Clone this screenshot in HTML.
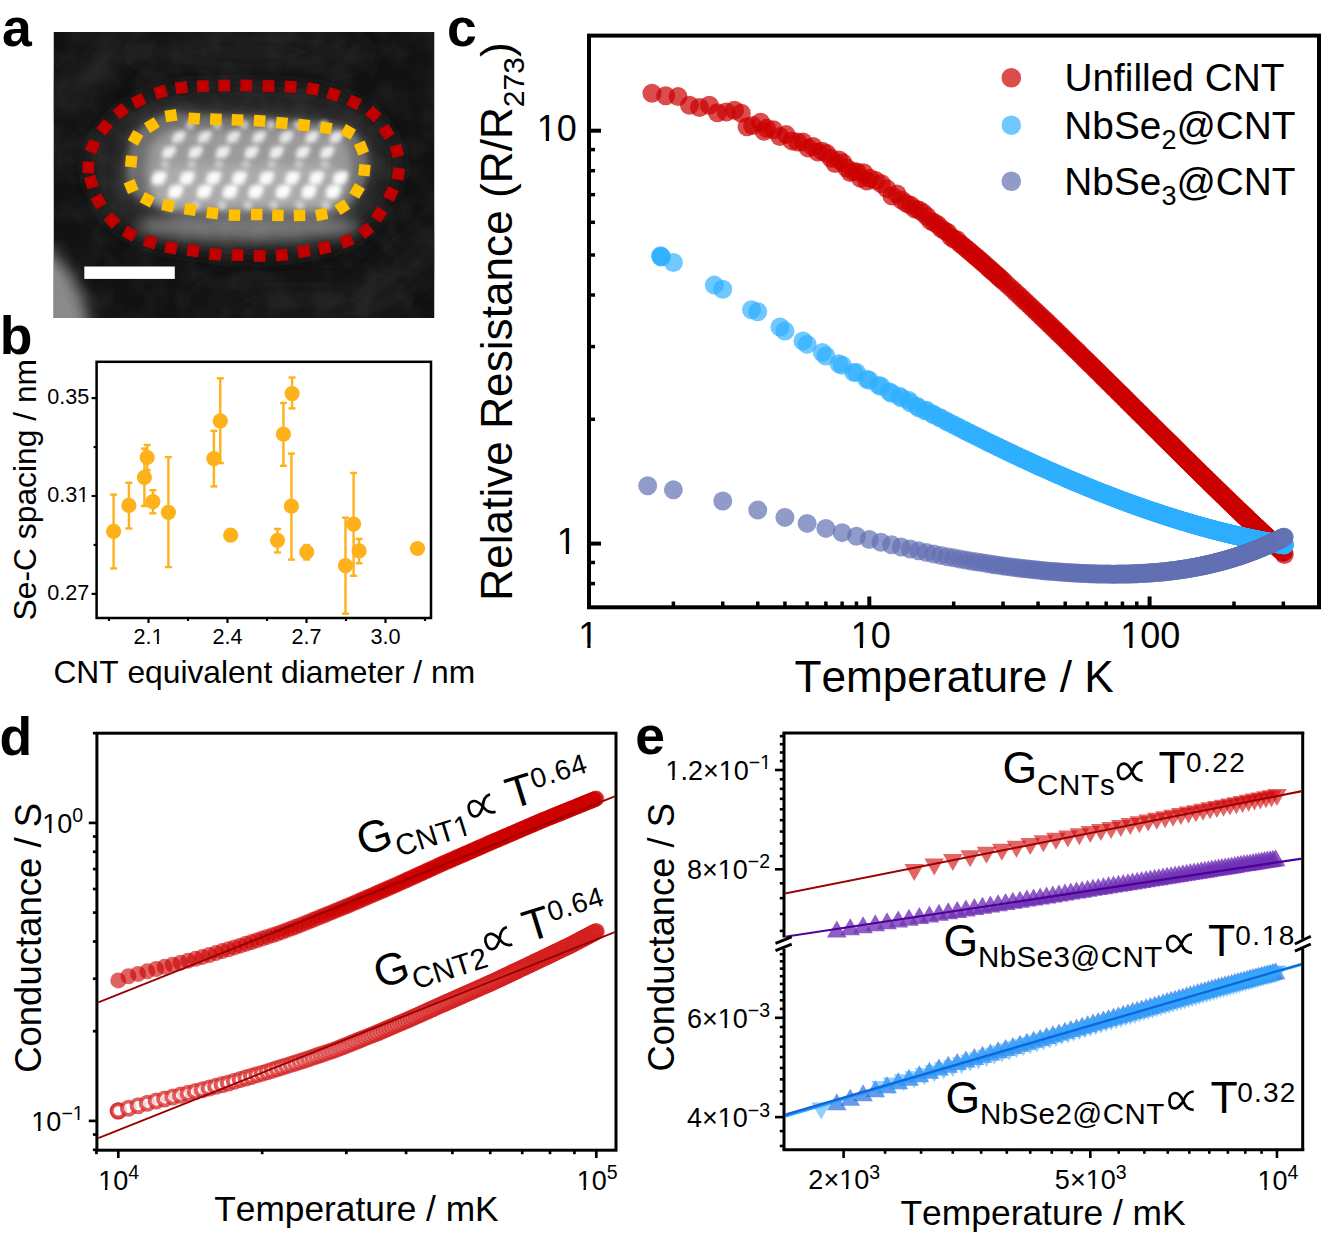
<!DOCTYPE html><html><head><meta charset="utf-8"><style>html,body{margin:0;padding:0;background:#fff;}svg{display:block;font-family:"Liberation Sans",sans-serif;font-kerning:none;}</style></head><body>
<svg width="1321" height="1237" viewBox="0 0 1321 1237">
<defs><clipPath id="clipa"><rect x="53.5" y="32" width="381" height="286"/></clipPath><clipPath id="clipc"><rect x="591" y="37.6" width="726" height="567.7"/></clipPath><clipPath id="clipd"><rect x="98.4" y="734.7" width="516.1" height="414"/></clipPath><clipPath id="clipe"><rect x="785.5" y="734.5" width="515.7" height="413.8"/></clipPath><filter id="grain" x="0" y="0" width="100%" height="100%"><feTurbulence type="fractalNoise" baseFrequency="0.045" numOctaves="2" seed="3"/><feColorMatrix type="matrix" values="0 0 0 0 1  0 0 0 0 1  0 0 0 0 1  2.2 0 0 0 -0.75"/></filter><filter id="blur2" x="-50%" y="-50%" width="200%" height="200%"><feGaussianBlur stdDeviation="2"/></filter><filter id="blur3" x="-50%" y="-50%" width="200%" height="200%"><feGaussianBlur stdDeviation="3"/></filter><filter id="blur5" x="-50%" y="-50%" width="200%" height="200%"><feGaussianBlur stdDeviation="5"/></filter><filter id="blur7" x="-50%" y="-50%" width="200%" height="200%"><feGaussianBlur stdDeviation="7"/></filter><filter id="blur8" x="-50%" y="-50%" width="200%" height="200%"><feGaussianBlur stdDeviation="8"/></filter><filter id="blur12" x="-50%" y="-50%" width="200%" height="200%"><feGaussianBlur stdDeviation="12"/></filter><filter id="blur14" x="-50%" y="-50%" width="200%" height="200%"><feGaussianBlur stdDeviation="14"/></filter></defs>
<rect width="1321" height="1237" fill="#fff"/>
<g clip-path="url(#clipa)">
<rect x="53.5" y="32" width="381" height="286" fill="#121212"/>
<g filter="url(#blur12)" opacity="0.6"><path d="M50,110 L140,25" stroke="#2c2c2c" stroke-width="28"/><path d="M60,170 L110,120" stroke="#262626" stroke-width="20"/><path d="M330,330 L440,240" stroke="#242424" stroke-width="36"/></g>
<g filter="url(#blur8)"><ellipse cx="57" cy="300" rx="24" ry="56" transform="rotate(-24 57 300)" fill="#8a8a8a"/></g>
<g filter="url(#blur14)" opacity="0.7"><ellipse cx="250" cy="52" rx="120" ry="16" fill="#262626"/><ellipse cx="300" cy="300" rx="110" ry="14" fill="#222"/></g>
<g filter="url(#blur8)"><path d="M160.7,92 L181.4,87.6 L202.9,86.1 L224.2,85.5 L246.3,85.5 L268.5,86.1 L290.6,86.7 L312.8,89 L333.4,94.4 L354.1,102.3 L373.3,114.1 L386.6,131.9 L396.9,151 L398.4,173.8 L391,193.9 L379.2,214.5 L365.9,230.8 L346.7,241.1 L324.6,247.9 L303.9,251.4 L281.8,255 L259.6,255.9 L237.5,255 L215.3,254.4 L193.2,250.8 L171,247.9 L150.4,242 L129.7,233.7 L112,220.4 L98.7,201.2 L91.3,182 L88.4,167.3 L92.8,146.6 L104.6,127.4 L120.9,111.2 L138.6,100.9 Z" fill="#242424" stroke="#242424" stroke-width="4" stroke-linejoin="round"/></g>
<g filter="url(#blur7)"><path d="M171,115.6 L194.1,118.6 L215.9,119.2 L237.5,120 L259.6,120.9 L281.8,123 L303.9,125.1 L326,128 L348.2,131.9 L361.5,148.1 L364.4,170.2 L357.1,190.9 L342.3,207.1 L321.6,214.5 L299.5,215.4 L277.9,215.4 L256.7,214.5 L234.5,215.1 L212.4,213.1 L190.2,209.5 L168.1,205.7 L147.4,199.8 L131.2,186.5 L131.2,161.4 L135.6,137.8 L151.9,125.1 Z" fill="#3a3a3a" stroke="#3a3a3a" stroke-width="20" stroke-linejoin="round"/></g>
<g filter="url(#blur7)"><ellipse cx="248" cy="226" rx="112" ry="15" fill="#747474"/></g>
<g filter="url(#blur3)"><path d="M171,115.6 L194.1,118.6 L215.9,119.2 L237.5,120 L259.6,120.9 L281.8,123 L303.9,125.1 L326,128 L348.2,131.9 L361.5,148.1 L364.4,170.2 L357.1,190.9 L342.3,207.1 L321.6,214.5 L299.5,215.4 L277.9,215.4 L256.7,214.5 L234.5,215.1 L212.4,213.1 L190.2,209.5 L168.1,205.7 L147.4,199.8 L131.2,186.5 L131.2,161.4 L135.6,137.8 L151.9,125.1 Z" fill="#6c6c6c" stroke="#6c6c6c" stroke-width="8" stroke-linejoin="round"/></g>
<g filter="url(#blur5)"><rect x="146" y="128" width="206" height="80" rx="36" fill="#999"/></g>
<g filter="url(#blur5)"><rect x="152" y="165" width="192" height="42" rx="20" fill="#ababab"/></g>
<g fill="#e6e6e6" filter="url(#blur2)"><circle cx="178.4" cy="137.2" r="5.6"/><circle cx="182.4" cy="134.2" r="3.47"/><circle cx="174.9" cy="140.2" r="3.08"/><circle cx="204.2" cy="137.2" r="5.6"/><circle cx="208.2" cy="134.2" r="3.47"/><circle cx="200.7" cy="140.2" r="3.08"/><circle cx="233" cy="137.2" r="5.6"/><circle cx="237" cy="134.2" r="3.47"/><circle cx="229.5" cy="140.2" r="3.08"/><circle cx="258.7" cy="137.2" r="5.6"/><circle cx="262.7" cy="134.2" r="3.47"/><circle cx="255.2" cy="140.2" r="3.08"/><circle cx="285.9" cy="137.2" r="5.6"/><circle cx="289.9" cy="134.2" r="3.47"/><circle cx="282.4" cy="140.2" r="3.08"/><circle cx="311.7" cy="137.2" r="5.6"/><circle cx="315.7" cy="134.2" r="3.47"/><circle cx="308.2" cy="140.2" r="3.08"/><circle cx="336" cy="137.2" r="5.6"/><circle cx="340" cy="134.2" r="3.47"/><circle cx="332.5" cy="140.2" r="3.08"/></g>
<g fill="#eeeeee" filter="url(#blur2)"><circle cx="168.6" cy="152.4" r="6.0"/><circle cx="172.6" cy="149.4" r="3.72"/><circle cx="165.1" cy="155.4" r="3.30"/><circle cx="195.1" cy="152.4" r="6.0"/><circle cx="199.1" cy="149.4" r="3.72"/><circle cx="191.6" cy="155.4" r="3.30"/><circle cx="222.4" cy="152.4" r="6.0"/><circle cx="226.4" cy="149.4" r="3.72"/><circle cx="218.9" cy="155.4" r="3.30"/><circle cx="251.1" cy="152.4" r="6.0"/><circle cx="255.1" cy="149.4" r="3.72"/><circle cx="247.6" cy="155.4" r="3.30"/><circle cx="276.1" cy="152.4" r="6.0"/><circle cx="280.1" cy="149.4" r="3.72"/><circle cx="272.6" cy="155.4" r="3.30"/><circle cx="302.6" cy="152.4" r="6.0"/><circle cx="306.6" cy="149.4" r="3.72"/><circle cx="299.1" cy="155.4" r="3.30"/><circle cx="326.8" cy="152.4" r="6.0"/><circle cx="330.8" cy="149.4" r="3.72"/><circle cx="323.3" cy="155.4" r="3.30"/></g>
<g fill="#fafafa" filter="url(#blur2)"><circle cx="158.8" cy="178.1" r="6.8"/><circle cx="162.8" cy="175.1" r="4.22"/><circle cx="155.3" cy="181.1" r="3.74"/><circle cx="186.8" cy="178.1" r="6.8"/><circle cx="190.8" cy="175.1" r="4.22"/><circle cx="183.3" cy="181.1" r="3.74"/><circle cx="213.3" cy="178.1" r="6.8"/><circle cx="217.3" cy="175.1" r="4.22"/><circle cx="209.8" cy="181.1" r="3.74"/><circle cx="239" cy="178.1" r="6.8"/><circle cx="243" cy="175.1" r="4.22"/><circle cx="235.5" cy="181.1" r="3.74"/><circle cx="266.3" cy="178.1" r="6.8"/><circle cx="270.3" cy="175.1" r="4.22"/><circle cx="262.8" cy="181.1" r="3.74"/><circle cx="292" cy="178.1" r="6.8"/><circle cx="296" cy="175.1" r="4.22"/><circle cx="288.5" cy="181.1" r="3.74"/><circle cx="316.2" cy="178.1" r="6.8"/><circle cx="320.2" cy="175.1" r="4.22"/><circle cx="312.7" cy="181.1" r="3.74"/><circle cx="340" cy="178.1" r="6.8"/><circle cx="344" cy="175.1" r="4.22"/><circle cx="336.5" cy="181.1" r="3.74"/></g>
<g fill="#fcfcfc" filter="url(#blur2)"><circle cx="175.4" cy="191.7" r="7.0"/><circle cx="179.4" cy="188.7" r="4.34"/><circle cx="171.9" cy="194.7" r="3.85"/><circle cx="204.2" cy="191.7" r="7.0"/><circle cx="208.2" cy="188.7" r="4.34"/><circle cx="200.7" cy="194.7" r="3.85"/><circle cx="229.9" cy="191.7" r="7.0"/><circle cx="233.9" cy="188.7" r="4.34"/><circle cx="226.4" cy="194.7" r="3.85"/><circle cx="255.7" cy="191.7" r="7.0"/><circle cx="259.7" cy="188.7" r="4.34"/><circle cx="252.2" cy="194.7" r="3.85"/><circle cx="282.9" cy="191.7" r="7.0"/><circle cx="286.9" cy="188.7" r="4.34"/><circle cx="279.4" cy="194.7" r="3.85"/><circle cx="308.7" cy="191.7" r="7.0"/><circle cx="312.7" cy="188.7" r="4.34"/><circle cx="305.2" cy="194.7" r="3.85"/><circle cx="333" cy="191.7" r="7.0"/><circle cx="337" cy="188.7" r="4.34"/><circle cx="329.5" cy="194.7" r="3.85"/></g>
<g fill="#c8c8c8" filter="url(#blur2)"><circle cx="165" cy="164.5" r="4.5"/><circle cx="192" cy="164.5" r="4.5"/><circle cx="219" cy="164.5" r="4.5"/><circle cx="246" cy="164.5" r="4.5"/><circle cx="272" cy="164.5" r="4.5"/><circle cx="299" cy="164.5" r="4.5"/><circle cx="325" cy="164.5" r="4.5"/><circle cx="190" cy="125" r="4.5"/><circle cx="217" cy="125" r="4.5"/><circle cx="244" cy="125" r="4.5"/><circle cx="271" cy="125" r="4.5"/><circle cx="298" cy="125" r="4.5"/><circle cx="324" cy="125" r="4.5"/></g>
<g fill="#d0d0d0" filter="url(#blur2)"><circle cx="170" cy="205" r="4.5"/><circle cx="196" cy="205" r="4.5"/><circle cx="222" cy="205" r="4.5"/><circle cx="248" cy="205" r="4.5"/><circle cx="274" cy="205" r="4.5"/><circle cx="300" cy="205" r="4.5"/><circle cx="326" cy="205" r="4.5"/></g>
<rect x="53.5" y="32" width="381" height="286" filter="url(#grain)" opacity="0.045"/>
</g>
<g fill="#c00000"><rect x="-5.9" y="-5.9" width="11.8" height="11.8" transform="translate(160.7,92) rotate(-17.26)"/><rect x="-5.9" y="-5.9" width="11.8" height="11.8" transform="translate(181.4,87.6) rotate(-7.96)"/><rect x="-5.9" y="-5.9" width="11.8" height="11.8" transform="translate(202.9,86.1) rotate(-2.81)"/><rect x="-5.9" y="-5.9" width="11.8" height="11.8" transform="translate(224.2,85.5) rotate(-0.79)"/><rect x="-5.9" y="-5.9" width="11.8" height="11.8" transform="translate(246.3,85.5) rotate(0.78)"/><rect x="-5.9" y="-5.9" width="11.8" height="11.8" transform="translate(268.5,86.1) rotate(1.55)"/><rect x="-5.9" y="-5.9" width="11.8" height="11.8" transform="translate(290.6,86.7) rotate(3.75)"/><rect x="-5.9" y="-5.9" width="11.8" height="11.8" transform="translate(312.8,89) rotate(10.2)"/><rect x="-5.9" y="-5.9" width="11.8" height="11.8" transform="translate(333.4,94.4) rotate(17.85)"/><rect x="-5.9" y="-5.9" width="11.8" height="11.8" transform="translate(354.1,102.3) rotate(26.28)"/><rect x="-5.9" y="-5.9" width="11.8" height="11.8" transform="translate(373.3,114.1) rotate(42.33)"/><rect x="-5.9" y="-5.9" width="11.8" height="11.8" transform="translate(386.6,131.9) rotate(57.4)"/><rect x="-5.9" y="-5.9" width="11.8" height="11.8" transform="translate(396.9,151) rotate(74.27)"/><rect x="-5.9" y="-5.9" width="11.8" height="11.8" transform="translate(398.4,173.8) rotate(97.83)"/><rect x="-5.9" y="-5.9" width="11.8" height="11.8" transform="translate(391,193.9) rotate(115.26)"/><rect x="-5.9" y="-5.9" width="11.8" height="11.8" transform="translate(379.2,214.5) rotate(124.22)"/><rect x="-5.9" y="-5.9" width="11.8" height="11.8" transform="translate(365.9,230.8) rotate(140.7)"/><rect x="-5.9" y="-5.9" width="11.8" height="11.8" transform="translate(346.7,241.1) rotate(157.51)"/><rect x="-5.9" y="-5.9" width="11.8" height="11.8" transform="translate(324.6,247.9) rotate(166.47)"/><rect x="-5.9" y="-5.9" width="11.8" height="11.8" transform="translate(303.9,251.4) rotate(170.58)"/><rect x="-5.9" y="-5.9" width="11.8" height="11.8" transform="translate(281.8,255) rotate(174.2)"/><rect x="-5.9" y="-5.9" width="11.8" height="11.8" transform="translate(259.6,255.9) rotate(180)"/><rect x="-5.9" y="-5.9" width="11.8" height="11.8" transform="translate(237.5,255) rotate(-178.06)"/><rect x="-5.9" y="-5.9" width="11.8" height="11.8" transform="translate(215.3,254.4) rotate(-174.58)"/><rect x="-5.9" y="-5.9" width="11.8" height="11.8" transform="translate(193.2,250.8) rotate(-171.65)"/><rect x="-5.9" y="-5.9" width="11.8" height="11.8" transform="translate(171,247.9) rotate(-168.38)"/><rect x="-5.9" y="-5.9" width="11.8" height="11.8" transform="translate(150.4,242) rotate(-161.03)"/><rect x="-5.9" y="-5.9" width="11.8" height="11.8" transform="translate(129.7,233.7) rotate(-150.64)"/><rect x="-5.9" y="-5.9" width="11.8" height="11.8" transform="translate(112,220.4) rotate(-133.65)"/><rect x="-5.9" y="-5.9" width="11.8" height="11.8" transform="translate(98.7,201.2) rotate(-118.33)"/><rect x="-5.9" y="-5.9" width="11.8" height="11.8" transform="translate(91.3,182) rotate(-106.9)"/><rect x="-5.9" y="-5.9" width="11.8" height="11.8" transform="translate(88.4,167.3) rotate(-87.57)"/><rect x="-5.9" y="-5.9" width="11.8" height="11.8" transform="translate(92.8,146.6) rotate(-67.9)"/><rect x="-5.9" y="-5.9" width="11.8" height="11.8" transform="translate(104.6,127.4) rotate(-51.56)"/><rect x="-5.9" y="-5.9" width="11.8" height="11.8" transform="translate(120.9,111.2) rotate(-37.93)"/><rect x="-5.9" y="-5.9" width="11.8" height="11.8" transform="translate(138.6,100.9) rotate(-25.75)"/></g>
<g fill="#ffc000"><rect x="-5.75" y="-5.75" width="11.5" height="11.5" transform="translate(171,115.6) rotate(-8.76)"/><rect x="-5.75" y="-5.75" width="11.5" height="11.5" transform="translate(194.1,118.6) rotate(4.58)"/><rect x="-5.75" y="-5.75" width="11.5" height="11.5" transform="translate(215.9,119.2) rotate(1.85)"/><rect x="-5.75" y="-5.75" width="11.5" height="11.5" transform="translate(237.5,120) rotate(2.23)"/><rect x="-5.75" y="-5.75" width="11.5" height="11.5" transform="translate(259.6,120.9) rotate(3.87)"/><rect x="-5.75" y="-5.75" width="11.5" height="11.5" transform="translate(281.8,123) rotate(5.42)"/><rect x="-5.75" y="-5.75" width="11.5" height="11.5" transform="translate(303.9,125.1) rotate(6.45)"/><rect x="-5.75" y="-5.75" width="11.5" height="11.5" transform="translate(326,128) rotate(8.73)"/><rect x="-5.75" y="-5.75" width="11.5" height="11.5" transform="translate(348.2,131.9) rotate(29.52)"/><rect x="-5.75" y="-5.75" width="11.5" height="11.5" transform="translate(361.5,148.1) rotate(67.07)"/><rect x="-5.75" y="-5.75" width="11.5" height="11.5" transform="translate(364.4,170.2) rotate(95.87)"/><rect x="-5.75" y="-5.75" width="11.5" height="11.5" transform="translate(357.1,190.9) rotate(120.92)"/><rect x="-5.75" y="-5.75" width="11.5" height="11.5" transform="translate(342.3,207.1) rotate(146.38)"/><rect x="-5.75" y="-5.75" width="11.5" height="11.5" transform="translate(321.6,214.5) rotate(169.03)"/><rect x="-5.75" y="-5.75" width="11.5" height="11.5" transform="translate(299.5,215.4) rotate(178.82)"/><rect x="-5.75" y="-5.75" width="11.5" height="11.5" transform="translate(277.9,215.4) rotate(-178.8)"/><rect x="-5.75" y="-5.75" width="11.5" height="11.5" transform="translate(256.7,214.5) rotate(-179.6)"/><rect x="-5.75" y="-5.75" width="11.5" height="11.5" transform="translate(234.5,215.1) rotate(-178.19)"/><rect x="-5.75" y="-5.75" width="11.5" height="11.5" transform="translate(212.4,213.1) rotate(-172.8)"/><rect x="-5.75" y="-5.75" width="11.5" height="11.5" transform="translate(190.2,209.5) rotate(-170.52)"/><rect x="-5.75" y="-5.75" width="11.5" height="11.5" transform="translate(168.1,205.7) rotate(-167.23)"/><rect x="-5.75" y="-5.75" width="11.5" height="11.5" transform="translate(147.4,199.8) rotate(-152.51)"/><rect x="-5.75" y="-5.75" width="11.5" height="11.5" transform="translate(131.2,186.5) rotate(-112.87)"/><rect x="-5.75" y="-5.75" width="11.5" height="11.5" transform="translate(131.2,161.4) rotate(-84.84)"/><rect x="-5.75" y="-5.75" width="11.5" height="11.5" transform="translate(135.6,137.8) rotate(-60.31)"/><rect x="-5.75" y="-5.75" width="11.5" height="11.5" transform="translate(151.9,125.1) rotate(-32.09)"/></g>
<rect x="84.3" y="266.5" width="90.5" height="12.4" fill="#fff"/>
<g stroke="#fdb11b" stroke-width="2.4"><line x1="113.6" y1="494.6" x2="113.6" y2="568.4"/><line x1="110.1" y1="494.6" x2="117.1" y2="494.6"/><line x1="110.1" y1="568.4" x2="117.1" y2="568.4"/><line x1="128.9" y1="482.8" x2="128.9" y2="528.5"/><line x1="125.4" y1="482.8" x2="132.4" y2="482.8"/><line x1="125.4" y1="528.5" x2="132.4" y2="528.5"/><line x1="147.2" y1="445" x2="147.2" y2="470.3"/><line x1="143.7" y1="445" x2="150.7" y2="445"/><line x1="143.7" y1="470.3" x2="150.7" y2="470.3"/><line x1="144.4" y1="448.6" x2="144.4" y2="506"/><line x1="140.9" y1="448.6" x2="147.9" y2="448.6"/><line x1="140.9" y1="506" x2="147.9" y2="506"/><line x1="152.9" y1="490.2" x2="152.9" y2="513.3"/><line x1="149.4" y1="490.2" x2="156.4" y2="490.2"/><line x1="149.4" y1="513.3" x2="156.4" y2="513.3"/><line x1="168.4" y1="457.1" x2="168.4" y2="567.1"/><line x1="164.9" y1="457.1" x2="171.9" y2="457.1"/><line x1="164.9" y1="567.1" x2="171.9" y2="567.1"/><line x1="213.9" y1="430.9" x2="213.9" y2="486.4"/><line x1="210.4" y1="430.9" x2="217.4" y2="430.9"/><line x1="210.4" y1="486.4" x2="217.4" y2="486.4"/><line x1="220.3" y1="378.3" x2="220.3" y2="463"/><line x1="216.8" y1="378.3" x2="223.8" y2="378.3"/><line x1="216.8" y1="463" x2="223.8" y2="463"/><line x1="292.1" y1="377.5" x2="292.1" y2="408.4"/><line x1="288.6" y1="377.5" x2="295.6" y2="377.5"/><line x1="288.6" y1="408.4" x2="295.6" y2="408.4"/><line x1="283.4" y1="403" x2="283.4" y2="465.8"/><line x1="279.9" y1="403" x2="286.9" y2="403"/><line x1="279.9" y1="465.8" x2="286.9" y2="465.8"/><line x1="291.4" y1="453.6" x2="291.4" y2="559.6"/><line x1="287.9" y1="453.6" x2="294.9" y2="453.6"/><line x1="287.9" y1="559.6" x2="294.9" y2="559.6"/><line x1="277.5" y1="528.9" x2="277.5" y2="552.4"/><line x1="274" y1="528.9" x2="281" y2="528.9"/><line x1="274" y1="552.4" x2="281" y2="552.4"/><line x1="306.7" y1="545" x2="306.7" y2="559.5"/><line x1="303.2" y1="545" x2="310.2" y2="545"/><line x1="303.2" y1="559.5" x2="310.2" y2="559.5"/><line x1="345.5" y1="517.7" x2="345.5" y2="613.7"/><line x1="342" y1="517.7" x2="349" y2="517.7"/><line x1="342" y1="613.7" x2="349" y2="613.7"/><line x1="353.6" y1="473" x2="353.6" y2="575.8"/><line x1="350.1" y1="473" x2="357.1" y2="473"/><line x1="350.1" y1="575.8" x2="357.1" y2="575.8"/><line x1="359.1" y1="538.9" x2="359.1" y2="563.3"/><line x1="355.6" y1="538.9" x2="362.6" y2="538.9"/><line x1="355.6" y1="563.3" x2="362.6" y2="563.3"/></g>
<g fill="#fdb11b"><circle cx="113.6" cy="531.3" r="7.6"/><circle cx="128.9" cy="505.4" r="7.6"/><circle cx="147.2" cy="457.5" r="7.6"/><circle cx="144.4" cy="477.3" r="7.6"/><circle cx="152.9" cy="501.6" r="7.6"/><circle cx="168.4" cy="512.3" r="7.6"/><circle cx="213.9" cy="458.6" r="7.6"/><circle cx="220.3" cy="420.9" r="7.6"/><circle cx="230.7" cy="535.2" r="7.6"/><circle cx="292.1" cy="393.6" r="7.6"/><circle cx="283.4" cy="434.2" r="7.6"/><circle cx="291.4" cy="506.2" r="7.6"/><circle cx="277.5" cy="540.4" r="7.6"/><circle cx="306.7" cy="552" r="7.6"/><circle cx="345.5" cy="565.7" r="7.6"/><circle cx="353.6" cy="524.1" r="7.6"/><circle cx="359.1" cy="550.9" r="7.6"/><circle cx="417.5" cy="548.5" r="7.6"/></g>
<rect x="96.6" y="361.8" width="334.4" height="256.2" fill="none" stroke="#000" stroke-width="2.5"/>
<line x1="96.6" y1="593.9" x2="91.6" y2="593.9" stroke="#000" stroke-width="2.2" />
<line x1="96.6" y1="544.95" x2="93.6" y2="544.95" stroke="#000" stroke-width="2.2" />
<line x1="96.6" y1="496" x2="91.6" y2="496" stroke="#000" stroke-width="2.2" />
<line x1="96.6" y1="447.05" x2="93.6" y2="447.05" stroke="#000" stroke-width="2.2" />
<line x1="96.6" y1="398.1" x2="91.6" y2="398.1" stroke="#000" stroke-width="2.2" />
<line x1="109" y1="618" x2="109" y2="621" stroke="#000" stroke-width="2.2" />
<line x1="148.5" y1="618" x2="148.5" y2="623" stroke="#000" stroke-width="2.2" />
<line x1="188" y1="618" x2="188" y2="621" stroke="#000" stroke-width="2.2" />
<line x1="227.5" y1="618" x2="227.5" y2="623" stroke="#000" stroke-width="2.2" />
<line x1="267" y1="618" x2="267" y2="621" stroke="#000" stroke-width="2.2" />
<line x1="306.5" y1="618" x2="306.5" y2="623" stroke="#000" stroke-width="2.2" />
<line x1="346" y1="618" x2="346" y2="621" stroke="#000" stroke-width="2.2" />
<line x1="385.5" y1="618" x2="385.5" y2="623" stroke="#000" stroke-width="2.2" />
<line x1="425" y1="618" x2="425" y2="621" stroke="#000" stroke-width="2.2" />
<text x="89.3" y="600.2" font-size="21.6" text-anchor="end" fill="#000" >0.27</text>
<text x="89.3" y="502.3" font-size="21.6" text-anchor="end" fill="#000" >0.31</text>
<g fill="#fff"><rect x="77.71" y="499.32" width="5.01" height="4.58"/><rect x="84.63" y="499.32" width="4.67" height="4.58"/></g>
<text x="89.3" y="404.4" font-size="21.6" text-anchor="end" fill="#000" >0.35</text>
<text x="148.5" y="644" font-size="21.6" text-anchor="middle" fill="#000" >2.1</text>
<g fill="#fff"><rect x="151.92" y="641.02" width="5.01" height="4.58"/><rect x="158.84" y="641.02" width="4.67" height="4.58"/></g>
<text x="227.5" y="644" font-size="21.6" text-anchor="middle" fill="#000" >2.4</text>
<text x="306.5" y="644" font-size="21.6" text-anchor="middle" fill="#000" >2.7</text>
<text x="385.5" y="644" font-size="21.6" text-anchor="middle" fill="#000" >3.0</text>
<text x="53.39" y="683.3" font-size="31.75" text-anchor="start" fill="#000" >CNT equivalent diameter / nm</text>
<g transform="translate(36.4,619) rotate(-90)"><text x="-1.44" y="0" font-size="31.8">Se-C spacing / nm</text></g>
<g clip-path="url(#clipc)">
<g fill="#cc0000" fill-opacity="0.7"><circle cx="652" cy="93.2" r="9.5"/><circle cx="665.7" cy="95.7" r="9.5"/><circle cx="678.1" cy="96.6" r="9.5"/><circle cx="689.5" cy="105.2" r="9.5"/><circle cx="699.5" cy="107.5" r="9.5"/><circle cx="709.3" cy="105.2" r="9.5"/><circle cx="717.4" cy="112.7" r="9.5"/><circle cx="726.3" cy="112" r="9.5"/><circle cx="734.5" cy="110.2" r="9.5"/><circle cx="741.3" cy="113.2" r="9.5"/><circle cx="747" cy="126.8" r="9.5"/><circle cx="752.6" cy="125.6" r="9.5"/><circle cx="760.6" cy="122.2" r="9.5"/><circle cx="764" cy="131.3" r="9.5"/><circle cx="766.56" cy="128.35" r="9.5"/><circle cx="773.44" cy="129.83" r="9.5"/><circle cx="779.95" cy="136.58" r="9.5"/><circle cx="786.13" cy="134.61" r="9.5"/><circle cx="792.01" cy="140.89" r="9.5"/><circle cx="797.63" cy="142.03" r="9.5"/><circle cx="802.99" cy="141.99" r="9.5"/><circle cx="808.13" cy="147.95" r="9.5"/><circle cx="813.06" cy="146.49" r="9.5"/><circle cx="817.79" cy="151.92" r="9.5"/><circle cx="822.35" cy="151.21" r="9.5"/><circle cx="826.75" cy="153.53" r="9.5"/><circle cx="830.99" cy="158.31" r="9.5"/><circle cx="835.09" cy="163.61" r="9.5"/><circle cx="839.05" cy="160.02" r="9.5"/><circle cx="842.89" cy="162.81" r="9.5"/><circle cx="846.62" cy="168.01" r="9.5"/><circle cx="850.23" cy="172.51" r="9.5"/><circle cx="853.74" cy="171.45" r="9.5"/><circle cx="857.15" cy="171.89" r="9.5"/><circle cx="860.47" cy="178.37" r="9.5"/><circle cx="863.69" cy="172.76" r="9.5"/><circle cx="866.84" cy="181.06" r="9.5"/><circle cx="869.91" cy="178.28" r="9.5"/><circle cx="875.82" cy="180.61" r="9.5"/><circle cx="881.45" cy="183.8" r="9.5"/><circle cx="886.84" cy="188.65" r="9.5"/><circle cx="892" cy="195.97" r="9.5"/><circle cx="896.95" cy="194.07" r="9.5"/><circle cx="901.71" cy="200.08" r="9.5"/><circle cx="906.28" cy="203.38" r="9.5"/><circle cx="910.69" cy="205.32" r="9.5"/><circle cx="914.95" cy="208.99" r="9.5"/><circle cx="919.06" cy="209.96" r="9.5"/><circle cx="923.04" cy="212.81" r="9.5"/><circle cx="926.89" cy="216.21" r="9.5"/><circle cx="930.63" cy="220.88" r="9.5"/><circle cx="934.25" cy="222.6" r="9.5"/><circle cx="937.77" cy="224.83" r="9.5"/><circle cx="941.19" cy="228.56" r="9.5"/><circle cx="944.52" cy="230.64" r="9.5"/><circle cx="947.75" cy="232.58" r="9.5"/><circle cx="950.91" cy="237.08" r="9.5"/><circle cx="953.98" cy="239.18" r="9.5"/><circle cx="956.98" cy="239.81" r="9.5"/><circle cx="959.91" cy="243.53" r="9.5"/><circle cx="962.77" cy="245.6" r="9.5"/><circle cx="965.56" cy="247.93" r="9.5"/><circle cx="968.29" cy="250.23" r="9.5"/><circle cx="970.96" cy="252.49" r="9.5"/><circle cx="973.57" cy="254.72" r="9.5"/><circle cx="976.13" cy="256.92" r="9.5"/><circle cx="978.63" cy="259.08" r="9.5"/><circle cx="981.09" cy="261.21" r="9.5"/><circle cx="983.49" cy="263.32" r="9.5"/><circle cx="985.85" cy="265.39" r="9.5"/><circle cx="988.17" cy="267.43" r="9.5"/><circle cx="990.44" cy="269.44" r="9.5"/><circle cx="992.67" cy="271.43" r="9.5"/><circle cx="994.86" cy="273.39" r="9.5"/><circle cx="997.01" cy="275.32" r="9.5"/><circle cx="999.12" cy="277.23" r="9.5"/><circle cx="1001.2" cy="279.11" r="9.5"/><circle cx="1003.24" cy="280.97" r="9.5"/><circle cx="1007.22" cy="284.61" r="9.5"/><circle cx="1011.08" cy="288.15" r="9.5"/><circle cx="1014.82" cy="291.61" r="9.5"/><circle cx="1018.45" cy="294.98" r="9.5"/><circle cx="1021.98" cy="298.28" r="9.5"/><circle cx="1025.4" cy="301.49" r="9.5"/><circle cx="1028.73" cy="304.63" r="9.5"/><circle cx="1031.97" cy="307.69" r="9.5"/><circle cx="1035.13" cy="310.69" r="9.5"/><circle cx="1038.21" cy="313.62" r="9.5"/><circle cx="1041.21" cy="316.49" r="9.5"/><circle cx="1044.14" cy="319.3" r="9.5"/><circle cx="1047" cy="322.04" r="9.5"/><circle cx="1049.8" cy="324.73" r="9.5"/><circle cx="1052.53" cy="327.37" r="9.5"/><circle cx="1055.2" cy="329.95" r="9.5"/><circle cx="1057.82" cy="332.48" r="9.5"/><circle cx="1060.38" cy="334.96" r="9.5"/><circle cx="1062.89" cy="337.39" r="9.5"/><circle cx="1065.34" cy="339.78" r="9.5"/><circle cx="1067.75" cy="342.13" r="9.5"/><circle cx="1070.11" cy="344.43" r="9.5"/><circle cx="1072.43" cy="346.69" r="9.5"/><circle cx="1074.7" cy="348.91" r="9.5"/><circle cx="1076.93" cy="351.09" r="9.5"/><circle cx="1079.13" cy="353.24" r="9.5"/><circle cx="1081.28" cy="355.35" r="9.5"/><circle cx="1083.39" cy="357.43" r="9.5"/><circle cx="1085.47" cy="359.47" r="9.5"/><circle cx="1087.52" cy="361.48" r="9.5"/><circle cx="1089.53" cy="363.46" r="9.5"/><circle cx="1091.51" cy="365.4" r="9.5"/><circle cx="1093.45" cy="367.32" r="9.5"/><circle cx="1095.37" cy="369.21" r="9.5"/><circle cx="1097.25" cy="371.07" r="9.5"/><circle cx="1099.11" cy="372.9" r="9.5"/><circle cx="1100.94" cy="374.71" r="9.5"/><circle cx="1102.74" cy="376.49" r="9.5"/><circle cx="1104.52" cy="378.25" r="9.5"/><circle cx="1106.27" cy="379.98" r="9.5"/><circle cx="1107.99" cy="381.69" r="9.5"/><circle cx="1109.69" cy="383.37" r="9.5"/><circle cx="1111.37" cy="385.04" r="9.5"/><circle cx="1113.03" cy="386.68" r="9.5"/><circle cx="1114.66" cy="388.29" r="9.5"/><circle cx="1116.27" cy="389.89" r="9.5"/><circle cx="1117.86" cy="391.47" r="9.5"/><circle cx="1119.43" cy="393.03" r="9.5"/><circle cx="1120.98" cy="394.57" r="9.5"/><circle cx="1122.51" cy="396.09" r="9.5"/><circle cx="1124.02" cy="397.59" r="9.5"/><circle cx="1125.52" cy="399.07" r="9.5"/><circle cx="1126.99" cy="400.53" r="9.5"/><circle cx="1128.45" cy="401.98" r="9.5"/><circle cx="1129.89" cy="403.41" r="9.5"/><circle cx="1131.31" cy="404.83" r="9.5"/><circle cx="1132.72" cy="406.22" r="9.5"/><circle cx="1134.11" cy="407.61" r="9.5"/><circle cx="1135.48" cy="408.97" r="9.5"/><circle cx="1136.84" cy="410.32" r="9.5"/><circle cx="1138.19" cy="411.66" r="9.5"/><circle cx="1139.52" cy="412.98" r="9.5"/><circle cx="1140.83" cy="414.29" r="9.5"/><circle cx="1142.13" cy="415.58" r="9.5"/><circle cx="1143.42" cy="416.86" r="9.5"/><circle cx="1144.69" cy="418.13" r="9.5"/><circle cx="1145.95" cy="419.38" r="9.5"/><circle cx="1147.2" cy="420.62" r="9.5"/><circle cx="1148.44" cy="421.85" r="9.5"/><circle cx="1149.66" cy="423.07" r="9.5"/><circle cx="1150.87" cy="424.27" r="9.5"/><circle cx="1152.07" cy="425.46" r="9.5"/><circle cx="1153.26" cy="426.64" r="9.5"/><circle cx="1154.43" cy="427.81" r="9.5"/><circle cx="1155.6" cy="428.97" r="9.5"/><circle cx="1156.75" cy="430.11" r="9.5"/><circle cx="1157.89" cy="431.25" r="9.5"/><circle cx="1159.03" cy="432.37" r="9.5"/><circle cx="1160.15" cy="433.48" r="9.5"/><circle cx="1161.26" cy="434.59" r="9.5"/><circle cx="1162.36" cy="435.68" r="9.5"/><circle cx="1163.45" cy="436.76" r="9.5"/><circle cx="1164.53" cy="437.84" r="9.5"/><circle cx="1165.6" cy="438.9" r="9.5"/><circle cx="1166.67" cy="439.95" r="9.5"/><circle cx="1167.72" cy="441" r="9.5"/><circle cx="1168.76" cy="442.03" r="9.5"/><circle cx="1169.8" cy="443.06" r="9.5"/><circle cx="1170.83" cy="444.08" r="9.5"/><circle cx="1171.85" cy="445.09" r="9.5"/><circle cx="1172.86" cy="446.09" r="9.5"/><circle cx="1173.86" cy="447.08" r="9.5"/><circle cx="1174.85" cy="448.06" r="9.5"/><circle cx="1175.84" cy="449.04" r="9.5"/><circle cx="1176.81" cy="450" r="9.5"/><circle cx="1177.78" cy="450.96" r="9.5"/><circle cx="1178.74" cy="451.91" r="9.5"/><circle cx="1179.7" cy="452.86" r="9.5"/><circle cx="1180.65" cy="453.79" r="9.5"/><circle cx="1181.59" cy="454.72" r="9.5"/><circle cx="1182.52" cy="455.64" r="9.5"/><circle cx="1183.44" cy="456.56" r="9.5"/><circle cx="1184.36" cy="457.46" r="9.5"/><circle cx="1185.27" cy="458.36" r="9.5"/><circle cx="1186.18" cy="459.26" r="9.5"/><circle cx="1187.08" cy="460.14" r="9.5"/><circle cx="1187.97" cy="461.02" r="9.5"/><circle cx="1188.85" cy="461.89" r="9.5"/><circle cx="1189.73" cy="462.76" r="9.5"/><circle cx="1190.6" cy="463.62" r="9.5"/><circle cx="1191.47" cy="464.47" r="9.5"/><circle cx="1192.33" cy="465.32" r="9.5"/><circle cx="1193.18" cy="466.16" r="9.5"/><circle cx="1194.03" cy="466.99" r="9.5"/><circle cx="1194.87" cy="467.82" r="9.5"/><circle cx="1195.71" cy="468.64" r="9.5"/><circle cx="1196.54" cy="469.46" r="9.5"/><circle cx="1197.37" cy="470.27" r="9.5"/><circle cx="1198.18" cy="471.08" r="9.5"/><circle cx="1199" cy="471.88" r="9.5"/><circle cx="1199.81" cy="472.67" r="9.5"/><circle cx="1200.61" cy="473.46" r="9.5"/><circle cx="1201.41" cy="474.24" r="9.5"/><circle cx="1202.2" cy="475.02" r="9.5"/><circle cx="1202.99" cy="475.79" r="9.5"/><circle cx="1203.77" cy="476.56" r="9.5"/><circle cx="1204.55" cy="477.32" r="9.5"/><circle cx="1205.32" cy="478.07" r="9.5"/><circle cx="1206.09" cy="478.82" r="9.5"/><circle cx="1206.85" cy="479.57" r="9.5"/><circle cx="1207.61" cy="480.31" r="9.5"/><circle cx="1208.36" cy="481.05" r="9.5"/><circle cx="1209.11" cy="481.78" r="9.5"/><circle cx="1209.86" cy="482.51" r="9.5"/><circle cx="1210.6" cy="483.23" r="9.5"/><circle cx="1211.33" cy="483.95" r="9.5"/><circle cx="1212.06" cy="484.66" r="9.5"/><circle cx="1212.79" cy="485.37" r="9.5"/><circle cx="1213.51" cy="486.07" r="9.5"/><circle cx="1214.23" cy="486.77" r="9.5"/><circle cx="1214.94" cy="487.47" r="9.5"/><circle cx="1215.65" cy="488.16" r="9.5"/><circle cx="1216.36" cy="488.85" r="9.5"/><circle cx="1217.06" cy="489.53" r="9.5"/><circle cx="1217.76" cy="490.21" r="9.5"/><circle cx="1218.45" cy="490.88" r="9.5"/><circle cx="1219.14" cy="491.55" r="9.5"/><circle cx="1219.83" cy="492.22" r="9.5"/><circle cx="1220.51" cy="492.88" r="9.5"/><circle cx="1221.19" cy="493.54" r="9.5"/><circle cx="1221.86" cy="494.19" r="9.5"/><circle cx="1222.53" cy="494.84" r="9.5"/><circle cx="1223.2" cy="495.49" r="9.5"/><circle cx="1223.86" cy="496.13" r="9.5"/><circle cx="1224.52" cy="496.77" r="9.5"/><circle cx="1225.18" cy="497.4" r="9.5"/><circle cx="1225.83" cy="498.03" r="9.5"/><circle cx="1226.48" cy="498.66" r="9.5"/><circle cx="1227.12" cy="499.28" r="9.5"/><circle cx="1227.77" cy="499.91" r="9.5"/><circle cx="1228.41" cy="500.52" r="9.5"/><circle cx="1229.04" cy="501.14" r="9.5"/><circle cx="1229.67" cy="501.75" r="9.5"/><circle cx="1230.3" cy="502.35" r="9.5"/><circle cx="1230.93" cy="502.96" r="9.5"/><circle cx="1231.55" cy="503.56" r="9.5"/><circle cx="1232.17" cy="504.15" r="9.5"/><circle cx="1232.79" cy="504.75" r="9.5"/><circle cx="1233.4" cy="505.34" r="9.5"/><circle cx="1234.01" cy="505.92" r="9.5"/><circle cx="1234.62" cy="506.51" r="9.5"/><circle cx="1235.22" cy="507.09" r="9.5"/><circle cx="1235.82" cy="507.66" r="9.5"/><circle cx="1236.42" cy="508.24" r="9.5"/><circle cx="1237.01" cy="508.81" r="9.5"/><circle cx="1237.61" cy="509.38" r="9.5"/><circle cx="1238.2" cy="509.94" r="9.5"/><circle cx="1238.78" cy="510.51" r="9.5"/><circle cx="1239.37" cy="511.07" r="9.5"/><circle cx="1239.95" cy="511.62" r="9.5"/><circle cx="1240.53" cy="512.18" r="9.5"/><circle cx="1241.1" cy="512.73" r="9.5"/><circle cx="1241.67" cy="513.27" r="9.5"/><circle cx="1242.24" cy="513.82" r="9.5"/><circle cx="1242.81" cy="514.36" r="9.5"/><circle cx="1243.38" cy="514.9" r="9.5"/><circle cx="1243.94" cy="515.44" r="9.5"/><circle cx="1244.5" cy="515.97" r="9.5"/><circle cx="1245.05" cy="516.5" r="9.5"/><circle cx="1245.61" cy="517.03" r="9.5"/><circle cx="1246.16" cy="517.56" r="9.5"/><circle cx="1246.71" cy="518.08" r="9.5"/><circle cx="1247.26" cy="518.6" r="9.5"/><circle cx="1247.8" cy="519.12" r="9.5"/><circle cx="1248.34" cy="519.64" r="9.5"/><circle cx="1248.88" cy="520.15" r="9.5"/><circle cx="1249.42" cy="520.66" r="9.5"/><circle cx="1249.96" cy="521.17" r="9.5"/><circle cx="1250.49" cy="521.67" r="9.5"/><circle cx="1251.02" cy="522.18" r="9.5"/><circle cx="1251.55" cy="522.68" r="9.5"/><circle cx="1252.07" cy="523.18" r="9.5"/><circle cx="1252.6" cy="523.67" r="9.5"/><circle cx="1253.12" cy="524.17" r="9.5"/><circle cx="1253.64" cy="524.66" r="9.5"/><circle cx="1254.15" cy="525.15" r="9.5"/><circle cx="1254.67" cy="525.63" r="9.5"/><circle cx="1255.18" cy="526.12" r="9.5"/><circle cx="1255.69" cy="526.6" r="9.5"/><circle cx="1256.2" cy="527.08" r="9.5"/><circle cx="1256.7" cy="527.56" r="9.5"/><circle cx="1257.21" cy="528.04" r="9.5"/><circle cx="1257.71" cy="528.51" r="9.5"/><circle cx="1258.21" cy="528.98" r="9.5"/><circle cx="1258.71" cy="529.45" r="9.5"/><circle cx="1259.2" cy="529.92" r="9.5"/><circle cx="1259.7" cy="530.38" r="9.5"/><circle cx="1260.19" cy="530.84" r="9.5"/><circle cx="1260.68" cy="531.31" r="9.5"/><circle cx="1261.17" cy="531.76" r="9.5"/><circle cx="1261.65" cy="532.22" r="9.5"/><circle cx="1262.14" cy="532.68" r="9.5"/><circle cx="1262.62" cy="533.13" r="9.5"/><circle cx="1263.1" cy="533.58" r="9.5"/><circle cx="1263.58" cy="534.03" r="9.5"/><circle cx="1264.05" cy="534.47" r="9.5"/><circle cx="1264.53" cy="534.92" r="9.5"/><circle cx="1265" cy="535.36" r="9.5"/><circle cx="1265.47" cy="535.8" r="9.5"/><circle cx="1265.94" cy="536.24" r="9.5"/><circle cx="1266.41" cy="536.68" r="9.5"/><circle cx="1266.87" cy="537.11" r="9.5"/><circle cx="1267.34" cy="537.55" r="9.5"/><circle cx="1267.8" cy="537.98" r="9.5"/><circle cx="1268.26" cy="538.41" r="9.5"/><circle cx="1268.72" cy="538.84" r="9.5"/><circle cx="1269.17" cy="539.26" r="9.5"/><circle cx="1269.63" cy="539.69" r="9.5"/><circle cx="1270.08" cy="540.11" r="9.5"/><circle cx="1270.53" cy="540.53" r="9.5"/><circle cx="1270.98" cy="540.95" r="9.5"/><circle cx="1271.43" cy="541.37" r="9.5"/><circle cx="1271.88" cy="541.78" r="9.5"/><circle cx="1272.32" cy="542.2" r="9.5"/><circle cx="1272.77" cy="542.61" r="9.5"/><circle cx="1273.21" cy="543.02" r="9.5"/><circle cx="1273.65" cy="543.43" r="9.5"/><circle cx="1274.09" cy="543.84" r="9.5"/><circle cx="1274.52" cy="544.24" r="9.5"/><circle cx="1274.96" cy="544.64" r="9.5"/><circle cx="1275.39" cy="545.05" r="9.5"/><circle cx="1275.83" cy="545.45" r="9.5"/><circle cx="1276.26" cy="545.85" r="9.5"/><circle cx="1276.69" cy="546.24" r="9.5"/><circle cx="1277.11" cy="546.64" r="9.5"/><circle cx="1277.54" cy="547.03" r="9.5"/><circle cx="1277.97" cy="547.43" r="9.5"/><circle cx="1278.39" cy="547.82" r="9.5"/><circle cx="1278.81" cy="548.21" r="9.5"/><circle cx="1279.23" cy="548.59" r="9.5"/><circle cx="1279.65" cy="548.98" r="9.5"/><circle cx="1280.07" cy="549.37" r="9.5"/><circle cx="1280.48" cy="549.75" r="9.5"/><circle cx="1280.9" cy="550.13" r="9.5"/><circle cx="1281.31" cy="550.51" r="9.5"/><circle cx="1281.72" cy="550.89" r="9.5"/><circle cx="1282.13" cy="551.27" r="9.5"/><circle cx="1282.54" cy="551.65" r="9.5"/><circle cx="1282.95" cy="552.02" r="9.5"/><circle cx="1283.36" cy="552.39" r="9.5"/><circle cx="1284.3" cy="554.5" r="9.5"/></g>
<g fill="#2eb0ff" fill-opacity="0.69"><circle cx="661.1" cy="256.8" r="9.5"/><circle cx="661.1" cy="256.8" r="9.5"/><circle cx="660.55" cy="255.84" r="9.5"/><circle cx="673.38" cy="262.5" r="9.5"/><circle cx="714.34" cy="285.12" r="9.5"/><circle cx="722.74" cy="289.34" r="9.5"/><circle cx="751.51" cy="309.78" r="9.5"/><circle cx="757.76" cy="311.83" r="9.5"/><circle cx="779.95" cy="327.07" r="9.5"/><circle cx="784.92" cy="331.09" r="9.5"/><circle cx="802.99" cy="341.03" r="9.5"/><circle cx="807.12" cy="344.38" r="9.5"/><circle cx="822.35" cy="352.44" r="9.5"/><circle cx="825.88" cy="356.02" r="9.5"/><circle cx="839.05" cy="363.86" r="9.5"/><circle cx="842.14" cy="365.16" r="9.5"/><circle cx="853.74" cy="372.4" r="9.5"/><circle cx="856.47" cy="372.58" r="9.5"/><circle cx="866.84" cy="379.22" r="9.5"/><circle cx="869.3" cy="380.32" r="9.5"/><circle cx="878.67" cy="385.4" r="9.5"/><circle cx="880.9" cy="386.32" r="9.5"/><circle cx="889.45" cy="391.87" r="9.5"/><circle cx="891.49" cy="393.22" r="9.5"/><circle cx="899.35" cy="396.32" r="9.5"/><circle cx="901.24" cy="397.79" r="9.5"/><circle cx="908.51" cy="400.23" r="9.5"/><circle cx="910.26" cy="402.7" r="9.5"/><circle cx="917.02" cy="406.16" r="9.5"/><circle cx="918.66" cy="407.85" r="9.5"/><circle cx="924.98" cy="410.77" r="9.5"/><circle cx="926.51" cy="410.29" r="9.5"/><circle cx="932.45" cy="413.91" r="9.5"/><circle cx="933.89" cy="414.66" r="9.5"/><circle cx="939.49" cy="417.57" r="9.5"/><circle cx="940.85" cy="418.28" r="9.5"/><circle cx="946.15" cy="421.01" r="9.5"/><circle cx="947.43" cy="421.68" r="9.5"/><circle cx="952.46" cy="424.25" r="9.5"/><circle cx="953.68" cy="424.88" r="9.5"/><circle cx="958.45" cy="427.31" r="9.5"/><circle cx="959.62" cy="427.9" r="9.5"/><circle cx="964.17" cy="430.2" r="9.5"/><circle cx="965.28" cy="430.76" r="9.5"/><circle cx="969.63" cy="432.95" r="9.5"/><circle cx="970.69" cy="433.48" r="9.5"/><circle cx="974.85" cy="435.56" r="9.5"/><circle cx="975.87" cy="436.07" r="9.5"/><circle cx="979.86" cy="438.05" r="9.5"/><circle cx="980.84" cy="438.54" r="9.5"/><circle cx="984.68" cy="440.43" r="9.5"/><circle cx="985.62" cy="440.89" r="9.5"/><circle cx="989.31" cy="442.7" r="9.5"/><circle cx="990.21" cy="443.14" r="9.5"/><circle cx="993.77" cy="444.87" r="9.5"/><circle cx="994.64" cy="445.3" r="9.5"/><circle cx="998.07" cy="446.96" r="9.5"/><circle cx="998.91" cy="447.36" r="9.5"/><circle cx="1002.22" cy="448.96" r="9.5"/><circle cx="1003.04" cy="449.35" r="9.5"/><circle cx="1006.24" cy="450.88" r="9.5"/><circle cx="1007.03" cy="451.26" r="9.5"/><circle cx="1010.13" cy="452.73" r="9.5"/><circle cx="1010.89" cy="453.09" r="9.5"/><circle cx="1013.9" cy="454.52" r="9.5"/><circle cx="1014.64" cy="454.86" r="9.5"/><circle cx="1017.56" cy="456.24" r="9.5"/><circle cx="1018.27" cy="456.57" r="9.5"/><circle cx="1021.1" cy="457.89" r="9.5"/><circle cx="1021.8" cy="458.22" r="9.5"/><circle cx="1024.55" cy="459.5" r="9.5"/><circle cx="1025.23" cy="459.81" r="9.5"/><circle cx="1027.91" cy="461.05" r="9.5"/><circle cx="1028.57" cy="461.35" r="9.5"/><circle cx="1031.17" cy="462.55" r="9.5"/><circle cx="1031.81" cy="462.84" r="9.5"/><circle cx="1034.35" cy="464" r="9.5"/><circle cx="1034.98" cy="464.29" r="9.5"/><circle cx="1037.45" cy="465.41" r="9.5"/><circle cx="1038.06" cy="465.69" r="9.5"/><circle cx="1040.47" cy="466.78" r="9.5"/><circle cx="1041.06" cy="467.04" r="9.5"/><circle cx="1043.42" cy="468.1" r="9.5"/><circle cx="1044" cy="468.36" r="9.5"/><circle cx="1046.29" cy="469.39" r="9.5"/><circle cx="1046.86" cy="469.64" r="9.5"/><circle cx="1049.11" cy="470.64" r="9.5"/><circle cx="1049.66" cy="470.89" r="9.5"/><circle cx="1051.85" cy="471.85" r="9.5"/><circle cx="1052.4" cy="472.09" r="9.5"/><circle cx="1054.54" cy="473.04" r="9.5"/><circle cx="1055.07" cy="473.27" r="9.5"/><circle cx="1057.17" cy="474.19" r="9.5"/><circle cx="1057.69" cy="474.42" r="9.5"/><circle cx="1059.74" cy="475.31" r="9.5"/><circle cx="1060.25" cy="475.53" r="9.5"/><circle cx="1062.26" cy="476.4" r="9.5"/><circle cx="1062.76" cy="476.62" r="9.5"/><circle cx="1064.73" cy="477.47" r="9.5"/><circle cx="1065.22" cy="477.68" r="9.5"/><circle cx="1067.15" cy="478.5" r="9.5"/><circle cx="1067.63" cy="478.71" r="9.5"/><circle cx="1069.53" cy="479.52" r="9.5"/><circle cx="1070" cy="479.72" r="9.5"/><circle cx="1071.85" cy="480.5" r="9.5"/><circle cx="1072.31" cy="480.7" r="9.5"/><circle cx="1074.14" cy="481.47" r="9.5"/><circle cx="1074.59" cy="481.66" r="9.5"/><circle cx="1076.38" cy="482.41" r="9.5"/><circle cx="1076.82" cy="482.6" r="9.5"/><circle cx="1078.58" cy="483.33" r="9.5"/><circle cx="1079.02" cy="483.51" r="9.5"/><circle cx="1080.74" cy="484.23" r="9.5"/><circle cx="1081.17" cy="484.41" r="9.5"/><circle cx="1082.87" cy="485.11" r="9.5"/><circle cx="1083.29" cy="485.29" r="9.5"/><circle cx="1084.96" cy="485.97" r="9.5"/><circle cx="1085.37" cy="486.14" r="9.5"/><circle cx="1087.01" cy="486.81" r="9.5"/><circle cx="1087.42" cy="486.98" r="9.5"/><circle cx="1089.03" cy="487.64" r="9.5"/><circle cx="1089.43" cy="487.8" r="9.5"/><circle cx="1091.01" cy="488.45" r="9.5"/><circle cx="1091.41" cy="488.6" r="9.5"/><circle cx="1092.97" cy="489.24" r="9.5"/><circle cx="1093.36" cy="489.39" r="9.5"/><circle cx="1094.89" cy="490.01" r="9.5"/><circle cx="1095.27" cy="490.16" r="9.5"/><circle cx="1096.78" cy="490.77" r="9.5"/><circle cx="1097.16" cy="490.92" r="9.5"/><circle cx="1098.65" cy="491.51" r="9.5"/><circle cx="1099.02" cy="491.66" r="9.5"/><circle cx="1100.48" cy="492.24" r="9.5"/><circle cx="1100.85" cy="492.38" r="9.5"/><circle cx="1102.29" cy="492.95" r="9.5"/><circle cx="1102.65" cy="493.09" r="9.5"/><circle cx="1104.08" cy="493.65" r="9.5"/><circle cx="1104.43" cy="493.79" r="9.5"/><circle cx="1105.83" cy="494.34" r="9.5"/><circle cx="1106.18" cy="494.48" r="9.5"/><circle cx="1107.56" cy="495.01" r="9.5"/><circle cx="1107.91" cy="495.15" r="9.5"/><circle cx="1109.27" cy="495.68" r="9.5"/><circle cx="1109.61" cy="495.81" r="9.5"/><circle cx="1110.96" cy="496.33" r="9.5"/><circle cx="1111.29" cy="496.46" r="9.5"/><circle cx="1112.62" cy="496.96" r="9.5"/><circle cx="1112.95" cy="497.09" r="9.5"/><circle cx="1114.25" cy="497.59" r="9.5"/><circle cx="1114.58" cy="497.72" r="9.5"/><circle cx="1115.87" cy="498.21" r="9.5"/><circle cx="1116.19" cy="498.33" r="9.5"/><circle cx="1117.47" cy="498.81" r="9.5"/><circle cx="1117.78" cy="498.93" r="9.5"/><circle cx="1119.04" cy="499.41" r="9.5"/><circle cx="1119.35" cy="499.52" r="9.5"/><circle cx="1120.6" cy="499.99" r="9.5"/><circle cx="1120.9" cy="500.11" r="9.5"/><circle cx="1122.13" cy="500.56" r="9.5"/><circle cx="1122.44" cy="500.68" r="9.5"/><circle cx="1123.65" cy="501.13" r="9.5"/><circle cx="1123.95" cy="501.24" r="9.5"/><circle cx="1125.14" cy="501.68" r="9.5"/><circle cx="1125.44" cy="501.79" r="9.5"/><circle cx="1126.62" cy="502.23" r="9.5"/><circle cx="1126.92" cy="502.34" r="9.5"/><circle cx="1128.09" cy="502.77" r="9.5"/><circle cx="1128.38" cy="502.87" r="9.5"/><circle cx="1129.53" cy="503.3" r="9.5"/><circle cx="1129.82" cy="503.4" r="9.5"/><circle cx="1130.96" cy="503.82" r="9.5"/><circle cx="1131.24" cy="503.92" r="9.5"/><circle cx="1132.37" cy="504.33" r="9.5"/><circle cx="1132.65" cy="504.43" r="9.5"/><circle cx="1133.76" cy="504.83" r="9.5"/><circle cx="1134.04" cy="504.93" r="9.5"/><circle cx="1135.14" cy="505.33" r="9.5"/><circle cx="1135.41" cy="505.42" r="9.5"/><circle cx="1136.5" cy="505.81" r="9.5"/><circle cx="1136.77" cy="505.91" r="9.5"/><circle cx="1137.85" cy="506.3" r="9.5"/><circle cx="1138.12" cy="506.39" r="9.5"/><circle cx="1139.18" cy="506.77" r="9.5"/><circle cx="1139.45" cy="506.86" r="9.5"/><circle cx="1140.5" cy="507.24" r="9.5"/><circle cx="1140.77" cy="507.33" r="9.5"/><circle cx="1141.81" cy="507.7" r="9.5"/><circle cx="1142.07" cy="507.79" r="9.5"/><circle cx="1143.1" cy="508.15" r="9.5"/><circle cx="1143.36" cy="508.24" r="9.5"/><circle cx="1144.38" cy="508.59" r="9.5"/><circle cx="1144.63" cy="508.68" r="9.5"/><circle cx="1145.64" cy="509.03" r="9.5"/><circle cx="1145.89" cy="509.12" r="9.5"/><circle cx="1146.89" cy="509.47" r="9.5"/><circle cx="1147.14" cy="509.55" r="9.5"/><circle cx="1148.13" cy="509.89" r="9.5"/><circle cx="1148.38" cy="509.98" r="9.5"/><circle cx="1149.36" cy="510.31" r="9.5"/><circle cx="1149.6" cy="510.4" r="9.5"/><circle cx="1150.57" cy="510.73" r="9.5"/><circle cx="1150.81" cy="510.81" r="9.5"/><circle cx="1151.77" cy="511.14" r="9.5"/><circle cx="1152.01" cy="511.22" r="9.5"/><circle cx="1152.96" cy="511.54" r="9.5"/><circle cx="1153.2" cy="511.62" r="9.5"/><circle cx="1154.14" cy="511.94" r="9.5"/><circle cx="1154.37" cy="512.02" r="9.5"/><circle cx="1155.31" cy="512.33" r="9.5"/><circle cx="1155.54" cy="512.41" r="9.5"/><circle cx="1156.46" cy="512.72" r="9.5"/><circle cx="1156.69" cy="512.8" r="9.5"/><circle cx="1157.61" cy="513.1" r="9.5"/><circle cx="1157.84" cy="513.18" r="9.5"/><circle cx="1158.74" cy="513.48" r="9.5"/><circle cx="1158.97" cy="513.56" r="9.5"/><circle cx="1159.87" cy="513.85" r="9.5"/><circle cx="1160.09" cy="513.93" r="9.5"/><circle cx="1160.98" cy="514.22" r="9.5"/><circle cx="1161.2" cy="514.29" r="9.5"/><circle cx="1162.08" cy="514.58" r="9.5"/><circle cx="1162.3" cy="514.65" r="9.5"/><circle cx="1163.18" cy="514.94" r="9.5"/><circle cx="1163.4" cy="515.01" r="9.5"/><circle cx="1164.26" cy="515.29" r="9.5"/><circle cx="1164.48" cy="515.36" r="9.5"/><circle cx="1165.34" cy="515.64" r="9.5"/><circle cx="1165.55" cy="515.71" r="9.5"/><circle cx="1166.4" cy="515.99" r="9.5"/><circle cx="1166.61" cy="516.05" r="9.5"/><circle cx="1167.46" cy="516.33" r="9.5"/><circle cx="1167.67" cy="516.39" r="9.5"/><circle cx="1168.5" cy="516.66" r="9.5"/><circle cx="1168.71" cy="516.73" r="9.5"/><circle cx="1169.54" cy="516.99" r="9.5"/><circle cx="1169.75" cy="517.06" r="9.5"/><circle cx="1170.57" cy="517.32" r="9.5"/><circle cx="1170.78" cy="517.38" r="9.5"/><circle cx="1171.59" cy="517.64" r="9.5"/><circle cx="1171.79" cy="517.71" r="9.5"/><circle cx="1172.6" cy="517.96" r="9.5"/><circle cx="1172.8" cy="518.03" r="9.5"/><circle cx="1173.61" cy="518.28" r="9.5"/><circle cx="1173.81" cy="518.34" r="9.5"/><circle cx="1174.6" cy="518.59" r="9.5"/><circle cx="1174.8" cy="518.65" r="9.5"/><circle cx="1175.59" cy="518.9" r="9.5"/><circle cx="1175.79" cy="518.96" r="9.5"/><circle cx="1176.57" cy="519.2" r="9.5"/><circle cx="1176.76" cy="519.26" r="9.5"/><circle cx="1177.54" cy="519.5" r="9.5"/><circle cx="1177.73" cy="519.56" r="9.5"/><circle cx="1178.5" cy="519.8" r="9.5"/><circle cx="1178.7" cy="519.86" r="9.5"/><circle cx="1179.46" cy="520.09" r="9.5"/><circle cx="1179.65" cy="520.15" r="9.5"/><circle cx="1180.41" cy="520.38" r="9.5"/><circle cx="1180.6" cy="520.44" r="9.5"/><circle cx="1181.35" cy="520.67" r="9.5"/><circle cx="1181.54" cy="520.73" r="9.5"/><circle cx="1182.29" cy="520.95" r="9.5"/><circle cx="1182.47" cy="521.01" r="9.5"/><circle cx="1183.21" cy="521.23" r="9.5"/><circle cx="1183.4" cy="521.29" r="9.5"/><circle cx="1184.13" cy="521.51" r="9.5"/><circle cx="1184.32" cy="521.56" r="9.5"/><circle cx="1185.05" cy="521.78" r="9.5"/><circle cx="1185.23" cy="521.84" r="9.5"/><circle cx="1185.95" cy="522.05" r="9.5"/><circle cx="1186.13" cy="522.11" r="9.5"/><circle cx="1186.85" cy="522.32" r="9.5"/><circle cx="1187.03" cy="522.38" r="9.5"/><circle cx="1187.74" cy="522.59" r="9.5"/><circle cx="1187.92" cy="522.64" r="9.5"/><circle cx="1188.63" cy="522.85" r="9.5"/><circle cx="1188.81" cy="522.9" r="9.5"/><circle cx="1189.51" cy="523.11" r="9.5"/><circle cx="1189.69" cy="523.16" r="9.5"/><circle cx="1190.39" cy="523.36" r="9.5"/><circle cx="1190.56" cy="523.41" r="9.5"/><circle cx="1191.25" cy="523.62" r="9.5"/><circle cx="1191.43" cy="523.67" r="9.5"/><circle cx="1192.11" cy="523.87" r="9.5"/><circle cx="1192.29" cy="523.92" r="9.5"/><circle cx="1192.97" cy="524.12" r="9.5"/><circle cx="1193.14" cy="524.16" r="9.5"/><circle cx="1193.82" cy="524.36" r="9.5"/><circle cx="1193.99" cy="524.41" r="9.5"/><circle cx="1194.66" cy="524.6" r="9.5"/><circle cx="1194.83" cy="524.65" r="9.5"/><circle cx="1195.5" cy="524.84" r="9.5"/><circle cx="1195.67" cy="524.89" r="9.5"/><circle cx="1196.33" cy="525.08" r="9.5"/><circle cx="1196.5" cy="525.13" r="9.5"/><circle cx="1197.16" cy="525.32" r="9.5"/><circle cx="1197.32" cy="525.36" r="9.5"/><circle cx="1197.98" cy="525.55" r="9.5"/><circle cx="1198.14" cy="525.59" r="9.5"/><circle cx="1198.8" cy="525.78" r="9.5"/><circle cx="1198.96" cy="525.82" r="9.5"/><circle cx="1199.61" cy="526.01" r="9.5"/><circle cx="1199.77" cy="526.05" r="9.5"/><circle cx="1200.41" cy="526.23" r="9.5"/><circle cx="1200.57" cy="526.28" r="9.5"/><circle cx="1201.21" cy="526.45" r="9.5"/><circle cx="1201.37" cy="526.5" r="9.5"/><circle cx="1202" cy="526.67" r="9.5"/><circle cx="1202.16" cy="526.72" r="9.5"/><circle cx="1202.79" cy="526.89" r="9.5"/><circle cx="1202.95" cy="526.94" r="9.5"/><circle cx="1203.58" cy="527.11" r="9.5"/><circle cx="1203.73" cy="527.15" r="9.5"/><circle cx="1204.36" cy="527.32" r="9.5"/><circle cx="1204.51" cy="527.37" r="9.5"/><circle cx="1205.13" cy="527.53" r="9.5"/><circle cx="1205.28" cy="527.58" r="9.5"/><circle cx="1205.9" cy="527.74" r="9.5"/><circle cx="1206.05" cy="527.79" r="9.5"/><circle cx="1206.66" cy="527.95" r="9.5"/><circle cx="1206.81" cy="527.99" r="9.5"/><circle cx="1207.42" cy="528.16" r="9.5"/><circle cx="1207.57" cy="528.2" r="9.5"/><circle cx="1208.18" cy="528.36" r="9.5"/><circle cx="1208.33" cy="528.4" r="9.5"/><circle cx="1208.93" cy="528.56" r="9.5"/><circle cx="1209.08" cy="528.6" r="9.5"/><circle cx="1209.67" cy="528.76" r="9.5"/><circle cx="1209.82" cy="528.8" r="9.5"/><circle cx="1210.41" cy="528.96" r="9.5"/><circle cx="1210.56" cy="529" r="9.5"/><circle cx="1211.15" cy="529.15" r="9.5"/><circle cx="1211.3" cy="529.19" r="9.5"/><circle cx="1211.88" cy="529.35" r="9.5"/><circle cx="1212.03" cy="529.39" r="9.5"/><circle cx="1212.61" cy="529.54" r="9.5"/><circle cx="1212.75" cy="529.58" r="9.5"/><circle cx="1213.33" cy="529.73" r="9.5"/><circle cx="1213.48" cy="529.77" r="9.5"/><circle cx="1214.05" cy="529.92" r="9.5"/><circle cx="1214.19" cy="529.96" r="9.5"/><circle cx="1214.77" cy="530.1" r="9.5"/><circle cx="1214.91" cy="530.14" r="9.5"/><circle cx="1215.48" cy="530.29" r="9.5"/><circle cx="1215.62" cy="530.33" r="9.5"/><circle cx="1216.18" cy="530.47" r="9.5"/><circle cx="1216.32" cy="530.51" r="9.5"/><circle cx="1216.89" cy="530.65" r="9.5"/><circle cx="1217.03" cy="530.69" r="9.5"/><circle cx="1217.58" cy="530.83" r="9.5"/><circle cx="1217.72" cy="530.87" r="9.5"/><circle cx="1218.28" cy="531.01" r="9.5"/><circle cx="1218.42" cy="531.05" r="9.5"/><circle cx="1218.97" cy="531.19" r="9.5"/><circle cx="1219.11" cy="531.22" r="9.5"/><circle cx="1219.66" cy="531.36" r="9.5"/><circle cx="1219.79" cy="531.4" r="9.5"/><circle cx="1220.34" cy="531.53" r="9.5"/><circle cx="1220.47" cy="531.57" r="9.5"/><circle cx="1221.02" cy="531.7" r="9.5"/><circle cx="1221.15" cy="531.74" r="9.5"/><circle cx="1221.69" cy="531.87" r="9.5"/><circle cx="1221.83" cy="531.91" r="9.5"/><circle cx="1222.36" cy="532.04" r="9.5"/><circle cx="1222.5" cy="532.08" r="9.5"/><circle cx="1223.03" cy="532.21" r="9.5"/><circle cx="1223.17" cy="532.24" r="9.5"/><circle cx="1223.7" cy="532.37" r="9.5"/><circle cx="1223.83" cy="532.41" r="9.5"/><circle cx="1224.36" cy="532.54" r="9.5"/><circle cx="1224.49" cy="532.57" r="9.5"/><circle cx="1225.01" cy="532.7" r="9.5"/><circle cx="1225.14" cy="532.73" r="9.5"/><circle cx="1225.67" cy="532.86" r="9.5"/><circle cx="1225.8" cy="532.89" r="9.5"/><circle cx="1226.32" cy="533.02" r="9.5"/><circle cx="1226.45" cy="533.05" r="9.5"/><circle cx="1226.96" cy="533.18" r="9.5"/><circle cx="1227.09" cy="533.21" r="9.5"/><circle cx="1227.61" cy="533.33" r="9.5"/><circle cx="1227.73" cy="533.36" r="9.5"/><circle cx="1228.25" cy="533.49" r="9.5"/><circle cx="1228.37" cy="533.52" r="9.5"/><circle cx="1228.88" cy="533.64" r="9.5"/><circle cx="1229.01" cy="533.67" r="9.5"/><circle cx="1229.52" cy="533.79" r="9.5"/><circle cx="1229.64" cy="533.82" r="9.5"/><circle cx="1230.15" cy="533.94" r="9.5"/><circle cx="1230.27" cy="533.97" r="9.5"/><circle cx="1230.77" cy="534.09" r="9.5"/><circle cx="1230.9" cy="534.12" r="9.5"/><circle cx="1231.4" cy="534.24" r="9.5"/><circle cx="1231.52" cy="534.27" r="9.5"/><circle cx="1232.02" cy="534.39" r="9.5"/><circle cx="1232.14" cy="534.42" r="9.5"/><circle cx="1232.63" cy="534.53" r="9.5"/><circle cx="1232.76" cy="534.56" r="9.5"/><circle cx="1233.25" cy="534.68" r="9.5"/><circle cx="1233.37" cy="534.71" r="9.5"/><circle cx="1233.86" cy="534.82" r="9.5"/><circle cx="1233.98" cy="534.85" r="9.5"/><circle cx="1234.46" cy="534.96" r="9.5"/><circle cx="1234.59" cy="534.99" r="9.5"/><circle cx="1235.07" cy="535.1" r="9.5"/><circle cx="1235.19" cy="535.13" r="9.5"/><circle cx="1235.67" cy="535.24" r="9.5"/><circle cx="1235.79" cy="535.27" r="9.5"/><circle cx="1236.27" cy="535.38" r="9.5"/><circle cx="1236.39" cy="535.41" r="9.5"/><circle cx="1236.87" cy="535.52" r="9.5"/><circle cx="1236.98" cy="535.54" r="9.5"/><circle cx="1237.46" cy="535.65" r="9.5"/><circle cx="1237.58" cy="535.68" r="9.5"/><circle cx="1238.05" cy="535.79" r="9.5"/><circle cx="1238.17" cy="535.81" r="9.5"/><circle cx="1238.64" cy="535.92" r="9.5"/><circle cx="1238.75" cy="535.95" r="9.5"/><circle cx="1239.22" cy="536.05" r="9.5"/><circle cx="1239.34" cy="536.08" r="9.5"/><circle cx="1239.8" cy="536.18" r="9.5"/><circle cx="1239.92" cy="536.21" r="9.5"/><circle cx="1240.38" cy="536.31" r="9.5"/><circle cx="1240.5" cy="536.34" r="9.5"/><circle cx="1240.96" cy="536.44" r="9.5"/><circle cx="1241.07" cy="536.47" r="9.5"/><circle cx="1241.53" cy="536.57" r="9.5"/><circle cx="1241.64" cy="536.6" r="9.5"/><circle cx="1242.1" cy="536.7" r="9.5"/><circle cx="1242.21" cy="536.72" r="9.5"/><circle cx="1242.67" cy="536.82" r="9.5"/><circle cx="1242.78" cy="536.85" r="9.5"/><circle cx="1243.23" cy="536.95" r="9.5"/><circle cx="1243.35" cy="536.97" r="9.5"/><circle cx="1243.8" cy="537.07" r="9.5"/><circle cx="1243.91" cy="537.1" r="9.5"/><circle cx="1244.36" cy="537.19" r="9.5"/><circle cx="1244.47" cy="537.22" r="9.5"/><circle cx="1244.92" cy="537.31" r="9.5"/><circle cx="1245.03" cy="537.34" r="9.5"/><circle cx="1245.47" cy="537.44" r="9.5"/><circle cx="1245.58" cy="537.46" r="9.5"/><circle cx="1246.02" cy="537.56" r="9.5"/><circle cx="1246.13" cy="537.58" r="9.5"/><circle cx="1246.57" cy="537.67" r="9.5"/><circle cx="1246.68" cy="537.7" r="9.5"/><circle cx="1247.12" cy="537.79" r="9.5"/><circle cx="1247.23" cy="537.81" r="9.5"/><circle cx="1247.67" cy="537.91" r="9.5"/><circle cx="1247.77" cy="537.93" r="9.5"/><circle cx="1248.21" cy="538.02" r="9.5"/><circle cx="1248.32" cy="538.05" r="9.5"/><circle cx="1248.75" cy="538.14" r="9.5"/><circle cx="1248.86" cy="538.16" r="9.5"/><circle cx="1249.29" cy="538.25" r="9.5"/><circle cx="1249.39" cy="538.28" r="9.5"/><circle cx="1249.82" cy="538.37" r="9.5"/><circle cx="1249.93" cy="538.39" r="9.5"/><circle cx="1250.36" cy="538.48" r="9.5"/><circle cx="1250.46" cy="538.5" r="9.5"/><circle cx="1250.89" cy="538.59" r="9.5"/><circle cx="1250.99" cy="538.61" r="9.5"/><circle cx="1251.41" cy="538.7" r="9.5"/><circle cx="1251.52" cy="538.72" r="9.5"/><circle cx="1251.94" cy="538.81" r="9.5"/><circle cx="1252.05" cy="538.83" r="9.5"/><circle cx="1252.47" cy="538.92" r="9.5"/><circle cx="1252.57" cy="538.94" r="9.5"/><circle cx="1252.99" cy="539.02" r="9.5"/><circle cx="1253.09" cy="539.05" r="9.5"/><circle cx="1253.51" cy="539.13" r="9.5"/><circle cx="1253.61" cy="539.15" r="9.5"/><circle cx="1254.02" cy="539.24" r="9.5"/><circle cx="1254.13" cy="539.26" r="9.5"/><circle cx="1254.54" cy="539.34" r="9.5"/><circle cx="1254.64" cy="539.36" r="9.5"/><circle cx="1255.05" cy="539.45" r="9.5"/><circle cx="1255.15" cy="539.47" r="9.5"/><circle cx="1255.56" cy="539.55" r="9.5"/><circle cx="1255.66" cy="539.57" r="9.5"/><circle cx="1256.07" cy="539.65" r="9.5"/><circle cx="1256.17" cy="539.67" r="9.5"/><circle cx="1256.58" cy="539.75" r="9.5"/><circle cx="1256.68" cy="539.77" r="9.5"/><circle cx="1257.08" cy="539.85" r="9.5"/><circle cx="1257.18" cy="539.87" r="9.5"/><circle cx="1257.59" cy="539.95" r="9.5"/><circle cx="1257.69" cy="539.97" r="9.5"/><circle cx="1258.09" cy="540.05" r="9.5"/><circle cx="1258.19" cy="540.07" r="9.5"/><circle cx="1258.58" cy="540.15" r="9.5"/><circle cx="1258.68" cy="540.17" r="9.5"/><circle cx="1259.08" cy="540.25" r="9.5"/><circle cx="1259.18" cy="540.27" r="9.5"/><circle cx="1259.57" cy="540.35" r="9.5"/><circle cx="1259.67" cy="540.37" r="9.5"/><circle cx="1260.07" cy="540.44" r="9.5"/><circle cx="1260.16" cy="540.46" r="9.5"/><circle cx="1260.56" cy="540.54" r="9.5"/><circle cx="1260.65" cy="540.56" r="9.5"/><circle cx="1261.05" cy="540.63" r="9.5"/><circle cx="1261.14" cy="540.65" r="9.5"/><circle cx="1261.53" cy="540.73" r="9.5"/><circle cx="1261.63" cy="540.75" r="9.5"/><circle cx="1262.02" cy="540.82" r="9.5"/><circle cx="1262.11" cy="540.84" r="9.5"/><circle cx="1262.5" cy="540.91" r="9.5"/><circle cx="1262.59" cy="540.93" r="9.5"/><circle cx="1262.98" cy="541.01" r="9.5"/><circle cx="1263.07" cy="541.02" r="9.5"/><circle cx="1263.46" cy="541.1" r="9.5"/><circle cx="1263.55" cy="541.12" r="9.5"/><circle cx="1263.93" cy="541.19" r="9.5"/><circle cx="1264.03" cy="541.21" r="9.5"/><circle cx="1264.41" cy="541.28" r="9.5"/><circle cx="1264.5" cy="541.3" r="9.5"/><circle cx="1264.88" cy="541.37" r="9.5"/><circle cx="1264.98" cy="541.38" r="9.5"/><circle cx="1265.35" cy="541.46" r="9.5"/><circle cx="1265.45" cy="541.47" r="9.5"/><circle cx="1265.82" cy="541.54" r="9.5"/><circle cx="1265.92" cy="541.56" r="9.5"/><circle cx="1266.29" cy="541.63" r="9.5"/><circle cx="1266.38" cy="541.65" r="9.5"/><circle cx="1266.76" cy="541.72" r="9.5"/><circle cx="1266.85" cy="541.73" r="9.5"/><circle cx="1267.22" cy="541.8" r="9.5"/><circle cx="1267.31" cy="541.82" r="9.5"/><circle cx="1267.68" cy="541.89" r="9.5"/><circle cx="1267.78" cy="541.9" r="9.5"/><circle cx="1268.14" cy="541.97" r="9.5"/><circle cx="1268.24" cy="541.99" r="9.5"/><circle cx="1268.6" cy="542.06" r="9.5"/><circle cx="1268.69" cy="542.07" r="9.5"/><circle cx="1269.06" cy="542.14" r="9.5"/><circle cx="1269.15" cy="542.16" r="9.5"/><circle cx="1269.52" cy="542.22" r="9.5"/><circle cx="1269.61" cy="542.24" r="9.5"/><circle cx="1269.97" cy="542.3" r="9.5"/><circle cx="1270.06" cy="542.32" r="9.5"/><circle cx="1270.42" cy="542.38" r="9.5"/><circle cx="1270.51" cy="542.4" r="9.5"/><circle cx="1270.87" cy="542.47" r="9.5"/><circle cx="1270.96" cy="542.48" r="9.5"/><circle cx="1271.32" cy="542.55" r="9.5"/><circle cx="1271.41" cy="542.56" r="9.5"/><circle cx="1271.77" cy="542.62" r="9.5"/><circle cx="1271.86" cy="542.64" r="9.5"/><circle cx="1272.21" cy="542.7" r="9.5"/><circle cx="1272.3" cy="542.72" r="9.5"/><circle cx="1272.66" cy="542.78" r="9.5"/><circle cx="1272.74" cy="542.8" r="9.5"/><circle cx="1273.1" cy="542.86" r="9.5"/><circle cx="1273.19" cy="542.88" r="9.5"/><circle cx="1273.54" cy="542.94" r="9.5"/><circle cx="1273.63" cy="542.95" r="9.5"/><circle cx="1273.98" cy="543.01" r="9.5"/><circle cx="1274.07" cy="543.03" r="9.5"/><circle cx="1274.42" cy="543.09" r="9.5"/><circle cx="1274.5" cy="543.1" r="9.5"/><circle cx="1274.85" cy="543.16" r="9.5"/><circle cx="1274.94" cy="543.18" r="9.5"/><circle cx="1275.29" cy="543.24" r="9.5"/><circle cx="1275.37" cy="543.25" r="9.5"/><circle cx="1275.72" cy="543.31" r="9.5"/><circle cx="1275.8" cy="543.33" r="9.5"/><circle cx="1276.15" cy="543.39" r="9.5"/><circle cx="1276.24" cy="543.4" r="9.5"/><circle cx="1276.58" cy="543.46" r="9.5"/><circle cx="1276.67" cy="543.48" r="9.5"/><circle cx="1277.01" cy="543.53" r="9.5"/><circle cx="1277.09" cy="543.55" r="9.5"/><circle cx="1277.43" cy="543.61" r="9.5"/><circle cx="1277.52" cy="543.62" r="9.5"/><circle cx="1277.86" cy="543.68" r="9.5"/><circle cx="1277.94" cy="543.69" r="9.5"/><circle cx="1278.28" cy="543.75" r="9.5"/><circle cx="1278.37" cy="543.76" r="9.5"/><circle cx="1278.71" cy="543.82" r="9.5"/><circle cx="1278.79" cy="543.83" r="9.5"/><circle cx="1279.13" cy="543.89" r="9.5"/><circle cx="1279.21" cy="543.9" r="9.5"/><circle cx="1279.55" cy="543.96" r="9.5"/><circle cx="1279.63" cy="543.97" r="9.5"/><circle cx="1279.96" cy="544.03" r="9.5"/><circle cx="1280.05" cy="544.04" r="9.5"/><circle cx="1280.38" cy="544.1" r="9.5"/><circle cx="1280.46" cy="544.11" r="9.5"/><circle cx="1280.79" cy="544.16" r="9.5"/><circle cx="1280.88" cy="544.18" r="9.5"/><circle cx="1281.21" cy="544.23" r="9.5"/><circle cx="1281.29" cy="544.24" r="9.5"/><circle cx="1281.62" cy="544.3" r="9.5"/><circle cx="1281.7" cy="544.31" r="9.5"/><circle cx="1282.03" cy="544.36" r="9.5"/><circle cx="1282.11" cy="544.38" r="9.5"/><circle cx="1282.44" cy="544.43" r="9.5"/><circle cx="1282.52" cy="544.44" r="9.5"/><circle cx="1282.85" cy="544.5" r="9.5"/><circle cx="1282.93" cy="544.51" r="9.5"/><circle cx="1283.26" cy="544.56" r="9.5"/><circle cx="1283.34" cy="544.57" r="9.5"/><circle cx="1283.66" cy="544.63" r="9.5"/><circle cx="1283.74" cy="544.64" r="9.5"/><circle cx="1284.07" cy="544.69" r="9.5"/><circle cx="1284.15" cy="544.7" r="9.5"/><circle cx="1284.47" cy="544.75" r="9.5"/><circle cx="1284.55" cy="544.77" r="9.5"/></g>
<g fill="#6370b4" fill-opacity="0.7"><circle cx="647.7" cy="485.7" r="9.5"/><circle cx="673.38" cy="489.87" r="9.5"/><circle cx="722.74" cy="501.08" r="9.5"/><circle cx="757.76" cy="510.1" r="9.5"/><circle cx="784.92" cy="517.39" r="9.5"/><circle cx="807.12" cy="523.39" r="9.5"/><circle cx="825.88" cy="528.4" r="9.5"/><circle cx="842.14" cy="532.65" r="9.5"/><circle cx="856.47" cy="536.31" r="9.5"/><circle cx="869.3" cy="539.5" r="9.5"/><circle cx="880.9" cy="542.31" r="9.5"/><circle cx="891.49" cy="544.8" r="9.5"/><circle cx="901.24" cy="547.04" r="9.5"/><circle cx="910.26" cy="549.04" r="9.5"/><circle cx="918.66" cy="550.86" r="9.5"/><circle cx="926.51" cy="552.52" r="9.5"/><circle cx="933.89" cy="554.03" r="9.5"/><circle cx="940.85" cy="555.41" r="9.5"/><circle cx="947.43" cy="556.68" r="9.5"/><circle cx="953.68" cy="557.86" r="9.5"/><circle cx="959.62" cy="558.94" r="9.5"/><circle cx="965.28" cy="559.95" r="9.5"/><circle cx="970.69" cy="560.88" r="9.5"/><circle cx="975.87" cy="561.75" r="9.5"/><circle cx="980.84" cy="562.57" r="9.5"/><circle cx="985.62" cy="563.32" r="9.5"/><circle cx="990.21" cy="564.03" r="9.5"/><circle cx="994.64" cy="564.69" r="9.5"/><circle cx="998.91" cy="565.31" r="9.5"/><circle cx="1003.04" cy="565.89" r="9.5"/><circle cx="1007.03" cy="566.44" r="9.5"/><circle cx="1010.89" cy="566.95" r="9.5"/><circle cx="1014.64" cy="567.43" r="9.5"/><circle cx="1018.27" cy="567.88" r="9.5"/><circle cx="1021.8" cy="568.31" r="9.5"/><circle cx="1025.23" cy="568.71" r="9.5"/><circle cx="1028.57" cy="569.09" r="9.5"/><circle cx="1031.81" cy="569.44" r="9.5"/><circle cx="1034.98" cy="569.78" r="9.5"/><circle cx="1038.06" cy="570.09" r="9.5"/><circle cx="1041.06" cy="570.39" r="9.5"/><circle cx="1044" cy="570.67" r="9.5"/><circle cx="1046.86" cy="570.93" r="9.5"/><circle cx="1049.66" cy="571.18" r="9.5"/><circle cx="1052.4" cy="571.41" r="9.5"/><circle cx="1055.07" cy="571.63" r="9.5"/><circle cx="1057.69" cy="571.84" r="9.5"/><circle cx="1060.25" cy="572.03" r="9.5"/><circle cx="1062.76" cy="572.22" r="9.5"/><circle cx="1065.22" cy="572.39" r="9.5"/><circle cx="1067.63" cy="572.55" r="9.5"/><circle cx="1070" cy="572.7" r="9.5"/><circle cx="1072.31" cy="572.84" r="9.5"/><circle cx="1074.59" cy="572.97" r="9.5"/><circle cx="1076.82" cy="573.09" r="9.5"/><circle cx="1079.02" cy="573.21" r="9.5"/><circle cx="1081.17" cy="573.31" r="9.5"/><circle cx="1083.29" cy="573.41" r="9.5"/><circle cx="1085.37" cy="573.5" r="9.5"/><circle cx="1087.42" cy="573.58" r="9.5"/><circle cx="1089.43" cy="573.66" r="9.5"/><circle cx="1091.41" cy="573.73" r="9.5"/><circle cx="1093.36" cy="573.8" r="9.5"/><circle cx="1095.27" cy="573.85" r="9.5"/><circle cx="1097.16" cy="573.91" r="9.5"/><circle cx="1099.02" cy="573.95" r="9.5"/><circle cx="1100.85" cy="573.99" r="9.5"/><circle cx="1102.65" cy="574.03" r="9.5"/><circle cx="1104.43" cy="574.06" r="9.5"/><circle cx="1106.18" cy="574.08" r="9.5"/><circle cx="1107.91" cy="574.1" r="9.5"/><circle cx="1109.61" cy="574.12" r="9.5"/><circle cx="1111.29" cy="574.13" r="9.5"/><circle cx="1112.95" cy="574.13" r="9.5"/><circle cx="1114.58" cy="574.13" r="9.5"/><circle cx="1116.19" cy="574.13" r="9.5"/><circle cx="1117.78" cy="574.12" r="9.5"/><circle cx="1119.35" cy="574.11" r="9.5"/><circle cx="1120.9" cy="574.09" r="9.5"/><circle cx="1122.44" cy="574.07" r="9.5"/><circle cx="1123.95" cy="574.05" r="9.5"/><circle cx="1125.44" cy="574.02" r="9.5"/><circle cx="1126.92" cy="573.99" r="9.5"/><circle cx="1128.38" cy="573.95" r="9.5"/><circle cx="1129.82" cy="573.91" r="9.5"/><circle cx="1131.24" cy="573.87" r="9.5"/><circle cx="1132.65" cy="573.83" r="9.5"/><circle cx="1134.04" cy="573.78" r="9.5"/><circle cx="1135.41" cy="573.72" r="9.5"/><circle cx="1136.77" cy="573.67" r="9.5"/><circle cx="1138.12" cy="573.61" r="9.5"/><circle cx="1139.45" cy="573.55" r="9.5"/><circle cx="1140.77" cy="573.48" r="9.5"/><circle cx="1142.07" cy="573.42" r="9.5"/><circle cx="1143.36" cy="573.35" r="9.5"/><circle cx="1144.63" cy="573.27" r="9.5"/><circle cx="1145.89" cy="573.2" r="9.5"/><circle cx="1147.14" cy="573.12" r="9.5"/><circle cx="1148.38" cy="573.04" r="9.5"/><circle cx="1149.6" cy="572.95" r="9.5"/><circle cx="1150.81" cy="572.87" r="9.5"/><circle cx="1152.01" cy="572.78" r="9.5"/><circle cx="1153.2" cy="572.69" r="9.5"/><circle cx="1154.37" cy="572.6" r="9.5"/><circle cx="1155.54" cy="572.5" r="9.5"/><circle cx="1156.69" cy="572.4" r="9.5"/><circle cx="1157.84" cy="572.3" r="9.5"/><circle cx="1158.97" cy="572.2" r="9.5"/><circle cx="1160.09" cy="572.1" r="9.5"/><circle cx="1161.2" cy="571.99" r="9.5"/><circle cx="1162.3" cy="571.88" r="9.5"/><circle cx="1163.4" cy="571.77" r="9.5"/><circle cx="1164.48" cy="571.66" r="9.5"/><circle cx="1165.55" cy="571.55" r="9.5"/><circle cx="1166.61" cy="571.43" r="9.5"/><circle cx="1167.67" cy="571.32" r="9.5"/><circle cx="1168.71" cy="571.2" r="9.5"/><circle cx="1169.75" cy="571.08" r="9.5"/><circle cx="1170.78" cy="570.95" r="9.5"/><circle cx="1171.79" cy="570.83" r="9.5"/><circle cx="1172.8" cy="570.71" r="9.5"/><circle cx="1173.81" cy="570.58" r="9.5"/><circle cx="1174.8" cy="570.45" r="9.5"/><circle cx="1175.79" cy="570.32" r="9.5"/><circle cx="1176.76" cy="570.19" r="9.5"/><circle cx="1177.73" cy="570.05" r="9.5"/><circle cx="1178.7" cy="569.92" r="9.5"/><circle cx="1179.65" cy="569.78" r="9.5"/><circle cx="1180.6" cy="569.65" r="9.5"/><circle cx="1181.54" cy="569.51" r="9.5"/><circle cx="1182.47" cy="569.37" r="9.5"/><circle cx="1183.4" cy="569.23" r="9.5"/><circle cx="1184.32" cy="569.08" r="9.5"/><circle cx="1185.23" cy="568.94" r="9.5"/><circle cx="1186.13" cy="568.8" r="9.5"/><circle cx="1187.03" cy="568.65" r="9.5"/><circle cx="1187.92" cy="568.5" r="9.5"/><circle cx="1188.81" cy="568.35" r="9.5"/><circle cx="1189.69" cy="568.2" r="9.5"/><circle cx="1190.56" cy="568.05" r="9.5"/><circle cx="1191.43" cy="567.9" r="9.5"/><circle cx="1192.29" cy="567.75" r="9.5"/><circle cx="1193.14" cy="567.59" r="9.5"/><circle cx="1193.99" cy="567.44" r="9.5"/><circle cx="1194.83" cy="567.28" r="9.5"/><circle cx="1195.67" cy="567.13" r="9.5"/><circle cx="1196.5" cy="566.97" r="9.5"/><circle cx="1197.32" cy="566.81" r="9.5"/><circle cx="1198.14" cy="566.65" r="9.5"/><circle cx="1198.96" cy="566.49" r="9.5"/><circle cx="1199.77" cy="566.33" r="9.5"/><circle cx="1200.57" cy="566.17" r="9.5"/><circle cx="1201.37" cy="566" r="9.5"/><circle cx="1202.16" cy="565.84" r="9.5"/><circle cx="1202.95" cy="565.67" r="9.5"/><circle cx="1203.73" cy="565.51" r="9.5"/><circle cx="1204.51" cy="565.34" r="9.5"/><circle cx="1205.28" cy="565.17" r="9.5"/><circle cx="1206.05" cy="565.01" r="9.5"/><circle cx="1206.81" cy="564.84" r="9.5"/><circle cx="1207.57" cy="564.67" r="9.5"/><circle cx="1208.33" cy="564.5" r="9.5"/><circle cx="1209.08" cy="564.33" r="9.5"/><circle cx="1209.82" cy="564.15" r="9.5"/><circle cx="1210.56" cy="563.98" r="9.5"/><circle cx="1211.3" cy="563.81" r="9.5"/><circle cx="1212.03" cy="563.63" r="9.5"/><circle cx="1212.75" cy="563.46" r="9.5"/><circle cx="1213.48" cy="563.28" r="9.5"/><circle cx="1214.19" cy="563.11" r="9.5"/><circle cx="1214.91" cy="562.93" r="9.5"/><circle cx="1215.62" cy="562.76" r="9.5"/><circle cx="1216.32" cy="562.58" r="9.5"/><circle cx="1217.03" cy="562.4" r="9.5"/><circle cx="1217.72" cy="562.22" r="9.5"/><circle cx="1218.42" cy="562.04" r="9.5"/><circle cx="1219.11" cy="561.86" r="9.5"/><circle cx="1219.79" cy="561.68" r="9.5"/><circle cx="1220.47" cy="561.5" r="9.5"/><circle cx="1221.15" cy="561.32" r="9.5"/><circle cx="1221.83" cy="561.14" r="9.5"/><circle cx="1222.5" cy="560.95" r="9.5"/><circle cx="1223.17" cy="560.77" r="9.5"/><circle cx="1223.83" cy="560.59" r="9.5"/><circle cx="1224.49" cy="560.4" r="9.5"/><circle cx="1225.14" cy="560.22" r="9.5"/><circle cx="1225.8" cy="560.03" r="9.5"/><circle cx="1226.45" cy="559.85" r="9.5"/><circle cx="1227.09" cy="559.66" r="9.5"/><circle cx="1227.73" cy="559.48" r="9.5"/><circle cx="1228.37" cy="559.29" r="9.5"/><circle cx="1229.01" cy="559.1" r="9.5"/><circle cx="1229.64" cy="558.92" r="9.5"/><circle cx="1230.27" cy="558.73" r="9.5"/><circle cx="1230.9" cy="558.54" r="9.5"/><circle cx="1231.52" cy="558.35" r="9.5"/><circle cx="1232.14" cy="558.16" r="9.5"/><circle cx="1232.76" cy="557.97" r="9.5"/><circle cx="1233.37" cy="557.78" r="9.5"/><circle cx="1233.98" cy="557.59" r="9.5"/><circle cx="1234.59" cy="557.4" r="9.5"/><circle cx="1235.19" cy="557.21" r="9.5"/><circle cx="1235.79" cy="557.02" r="9.5"/><circle cx="1236.39" cy="556.83" r="9.5"/><circle cx="1236.98" cy="556.64" r="9.5"/><circle cx="1237.58" cy="556.44" r="9.5"/><circle cx="1238.17" cy="556.25" r="9.5"/><circle cx="1238.75" cy="556.06" r="9.5"/><circle cx="1239.34" cy="555.87" r="9.5"/><circle cx="1239.92" cy="555.67" r="9.5"/><circle cx="1240.5" cy="555.48" r="9.5"/><circle cx="1241.07" cy="555.28" r="9.5"/><circle cx="1241.64" cy="555.09" r="9.5"/><circle cx="1242.21" cy="554.9" r="9.5"/><circle cx="1242.78" cy="554.7" r="9.5"/><circle cx="1243.35" cy="554.51" r="9.5"/><circle cx="1243.91" cy="554.31" r="9.5"/><circle cx="1244.47" cy="554.11" r="9.5"/><circle cx="1245.03" cy="553.92" r="9.5"/><circle cx="1245.58" cy="553.72" r="9.5"/><circle cx="1246.13" cy="553.53" r="9.5"/><circle cx="1246.68" cy="553.33" r="9.5"/><circle cx="1247.23" cy="553.13" r="9.5"/><circle cx="1247.77" cy="552.94" r="9.5"/><circle cx="1248.32" cy="552.74" r="9.5"/><circle cx="1248.86" cy="552.54" r="9.5"/><circle cx="1249.39" cy="552.34" r="9.5"/><circle cx="1249.93" cy="552.14" r="9.5"/><circle cx="1250.46" cy="551.95" r="9.5"/><circle cx="1250.99" cy="551.75" r="9.5"/><circle cx="1251.52" cy="551.55" r="9.5"/><circle cx="1252.05" cy="551.35" r="9.5"/><circle cx="1252.57" cy="551.15" r="9.5"/><circle cx="1253.09" cy="550.95" r="9.5"/><circle cx="1253.61" cy="550.75" r="9.5"/><circle cx="1254.13" cy="550.55" r="9.5"/><circle cx="1254.64" cy="550.35" r="9.5"/><circle cx="1255.15" cy="550.15" r="9.5"/><circle cx="1255.66" cy="549.95" r="9.5"/><circle cx="1256.17" cy="549.75" r="9.5"/><circle cx="1256.68" cy="549.55" r="9.5"/><circle cx="1257.18" cy="549.35" r="9.5"/><circle cx="1257.69" cy="549.15" r="9.5"/><circle cx="1258.19" cy="548.95" r="9.5"/><circle cx="1258.68" cy="548.75" r="9.5"/><circle cx="1259.18" cy="548.55" r="9.5"/><circle cx="1259.67" cy="548.35" r="9.5"/><circle cx="1260.16" cy="548.15" r="9.5"/><circle cx="1260.65" cy="547.94" r="9.5"/><circle cx="1261.14" cy="547.74" r="9.5"/><circle cx="1261.63" cy="547.54" r="9.5"/><circle cx="1262.11" cy="547.34" r="9.5"/><circle cx="1262.59" cy="547.14" r="9.5"/><circle cx="1263.07" cy="546.94" r="9.5"/><circle cx="1263.55" cy="546.73" r="9.5"/><circle cx="1264.03" cy="546.53" r="9.5"/><circle cx="1264.5" cy="546.33" r="9.5"/><circle cx="1264.98" cy="546.13" r="9.5"/><circle cx="1265.45" cy="545.92" r="9.5"/><circle cx="1265.92" cy="545.72" r="9.5"/><circle cx="1266.38" cy="545.52" r="9.5"/><circle cx="1266.85" cy="545.31" r="9.5"/><circle cx="1267.31" cy="545.11" r="9.5"/><circle cx="1267.78" cy="544.91" r="9.5"/><circle cx="1268.24" cy="544.7" r="9.5"/><circle cx="1268.69" cy="544.5" r="9.5"/><circle cx="1269.15" cy="544.3" r="9.5"/><circle cx="1269.61" cy="544.09" r="9.5"/><circle cx="1270.06" cy="543.89" r="9.5"/><circle cx="1270.51" cy="543.69" r="9.5"/><circle cx="1270.96" cy="543.48" r="9.5"/><circle cx="1271.41" cy="543.28" r="9.5"/><circle cx="1271.86" cy="543.07" r="9.5"/><circle cx="1272.3" cy="542.87" r="9.5"/><circle cx="1272.74" cy="542.67" r="9.5"/><circle cx="1273.19" cy="542.46" r="9.5"/><circle cx="1273.63" cy="542.26" r="9.5"/><circle cx="1274.07" cy="542.05" r="9.5"/><circle cx="1274.5" cy="541.85" r="9.5"/><circle cx="1274.94" cy="541.65" r="9.5"/><circle cx="1275.37" cy="541.44" r="9.5"/><circle cx="1275.8" cy="541.24" r="9.5"/><circle cx="1276.24" cy="541.03" r="9.5"/><circle cx="1276.67" cy="540.83" r="9.5"/><circle cx="1277.09" cy="540.62" r="9.5"/><circle cx="1277.52" cy="540.42" r="9.5"/><circle cx="1277.94" cy="540.21" r="9.5"/><circle cx="1278.37" cy="540.01" r="9.5"/><circle cx="1278.79" cy="539.8" r="9.5"/><circle cx="1279.21" cy="539.6" r="9.5"/><circle cx="1279.63" cy="539.39" r="9.5"/><circle cx="1280.05" cy="539.19" r="9.5"/><circle cx="1280.46" cy="538.98" r="9.5"/><circle cx="1280.88" cy="538.78" r="9.5"/><circle cx="1281.29" cy="538.57" r="9.5"/><circle cx="1281.7" cy="538.37" r="9.5"/><circle cx="1282.11" cy="538.16" r="9.5"/><circle cx="1282.52" cy="537.96" r="9.5"/><circle cx="1282.93" cy="537.75" r="9.5"/><circle cx="1283.34" cy="537.55" r="9.5"/><circle cx="1283.74" cy="537.34" r="9.5"/><circle cx="1284.15" cy="537.14" r="9.5"/></g>
</g>
<rect x="589" y="35.6" width="730" height="571.7" fill="none" stroke="#000" stroke-width="4"/>
<line x1="673.38" y1="607.3" x2="673.38" y2="601.5" stroke="#000" stroke-width="3.5" />
<line x1="722.74" y1="607.3" x2="722.74" y2="601.5" stroke="#000" stroke-width="3.5" />
<line x1="757.76" y1="607.3" x2="757.76" y2="601.5" stroke="#000" stroke-width="3.5" />
<line x1="784.92" y1="607.3" x2="784.92" y2="601.5" stroke="#000" stroke-width="3.5" />
<line x1="807.12" y1="607.3" x2="807.12" y2="601.5" stroke="#000" stroke-width="3.5" />
<line x1="825.88" y1="607.3" x2="825.88" y2="601.5" stroke="#000" stroke-width="3.5" />
<line x1="842.14" y1="607.3" x2="842.14" y2="601.5" stroke="#000" stroke-width="3.5" />
<line x1="856.47" y1="607.3" x2="856.47" y2="601.5" stroke="#000" stroke-width="3.5" />
<line x1="869.3" y1="607.3" x2="869.3" y2="596.5" stroke="#000" stroke-width="4" />
<line x1="953.68" y1="607.3" x2="953.68" y2="601.5" stroke="#000" stroke-width="3.5" />
<line x1="1003.04" y1="607.3" x2="1003.04" y2="601.5" stroke="#000" stroke-width="3.5" />
<line x1="1038.06" y1="607.3" x2="1038.06" y2="601.5" stroke="#000" stroke-width="3.5" />
<line x1="1065.22" y1="607.3" x2="1065.22" y2="601.5" stroke="#000" stroke-width="3.5" />
<line x1="1087.42" y1="607.3" x2="1087.42" y2="601.5" stroke="#000" stroke-width="3.5" />
<line x1="1106.18" y1="607.3" x2="1106.18" y2="601.5" stroke="#000" stroke-width="3.5" />
<line x1="1122.44" y1="607.3" x2="1122.44" y2="601.5" stroke="#000" stroke-width="3.5" />
<line x1="1136.77" y1="607.3" x2="1136.77" y2="601.5" stroke="#000" stroke-width="3.5" />
<line x1="1149.6" y1="607.3" x2="1149.6" y2="596.5" stroke="#000" stroke-width="4" />
<line x1="1233.98" y1="607.3" x2="1233.98" y2="601.5" stroke="#000" stroke-width="3.5" />
<line x1="1283.34" y1="607.3" x2="1283.34" y2="601.5" stroke="#000" stroke-width="3.5" />
<line x1="589" y1="583.61" x2="595" y2="583.61" stroke="#000" stroke-width="3.5" />
<line x1="589" y1="562.49" x2="595" y2="562.49" stroke="#000" stroke-width="3.5" />
<line x1="589" y1="543.6" x2="601" y2="543.6" stroke="#000" stroke-width="4" />
<line x1="589" y1="419.3" x2="595" y2="419.3" stroke="#000" stroke-width="3.5" />
<line x1="589" y1="346.6" x2="595" y2="346.6" stroke="#000" stroke-width="3.5" />
<line x1="589" y1="295.01" x2="595" y2="295.01" stroke="#000" stroke-width="3.5" />
<line x1="589" y1="255" x2="595" y2="255" stroke="#000" stroke-width="3.5" />
<line x1="589" y1="222.3" x2="595" y2="222.3" stroke="#000" stroke-width="3.5" />
<line x1="589" y1="194.66" x2="595" y2="194.66" stroke="#000" stroke-width="3.5" />
<line x1="589" y1="170.71" x2="595" y2="170.71" stroke="#000" stroke-width="3.5" />
<line x1="589" y1="149.59" x2="595" y2="149.59" stroke="#000" stroke-width="3.5" />
<line x1="589" y1="130.7" x2="601" y2="130.7" stroke="#000" stroke-width="4" />
<text x="588.3" y="648" font-size="36" text-anchor="middle" fill="#000" >1</text>
<g fill="#fff"><rect x="578.99" y="643.83" width="8.35" height="5.77"/><rect x="590.52" y="643.83" width="7.79" height="5.77"/></g>
<text x="870.8" y="648.3" font-size="36" text-anchor="middle" fill="#000" >10</text>
<g fill="#fff"><rect x="851.48" y="644.13" width="8.35" height="5.77"/><rect x="863.01" y="644.13" width="7.79" height="5.77"/></g>
<text x="1150.3" y="648.3" font-size="36" text-anchor="middle" fill="#000" >100</text>
<g fill="#fff"><rect x="1120.97" y="644.13" width="8.35" height="5.77"/><rect x="1132.5" y="644.13" width="7.79" height="5.77"/></g>
<text x="576.8" y="141.3" font-size="36" text-anchor="end" fill="#000" >10</text>
<g fill="#fff"><rect x="537.46" y="137.13" width="8.35" height="5.77"/><rect x="548.99" y="137.13" width="7.79" height="5.77"/></g>
<text x="576.8" y="554.4" font-size="36" text-anchor="end" fill="#000" >1</text>
<g fill="#fff"><rect x="557.48" y="550.23" width="8.35" height="5.77"/><rect x="569.01" y="550.23" width="7.79" height="5.77"/></g>
<text x="794.41" y="691.7" font-size="44.2" text-anchor="start" fill="#000" >Temperature / K</text>
<g transform="translate(512.4,597.1) rotate(-90)"><text x="-3.62" y="0" font-size="44.2">Relative Resistance (R/R<tspan font-size="30" dy="11.5">273</tspan><tspan dy="-11.5">)</tspan></text></g>
<circle cx="1011.3" cy="77.8" r="9.8" fill="#cc0000" fill-opacity="0.7"/>
<circle cx="1011.3" cy="125.2" r="9.8" fill="#2eb0ff" fill-opacity="0.69"/>
<circle cx="1011.3" cy="181.3" r="9.8" fill="#6370b4" fill-opacity="0.7"/>
<text x="1064.51" y="91.2" font-size="38.8" text-anchor="start" fill="#000" >Unfilled CNT</text>
<text x="1064.32" y="138.8" font-size="38.8">NbSe<tspan font-size="27" dy="10.2">2</tspan><tspan dy="-10.2">@CNT</tspan></text>
<text x="1064.32" y="194.7" font-size="38.8">NbSe<tspan font-size="27" dy="10.2">3</tspan><tspan dy="-10.2">@CNT</tspan></text>
<g clip-path="url(#clipd)">
<g fill="#cc0000" fill-opacity="0.61"><circle cx="118.3" cy="980.46" r="8"/><circle cx="128.43" cy="976.25" r="8"/><circle cx="138.09" cy="973.92" r="8"/><circle cx="147.31" cy="971.35" r="8"/><circle cx="156.15" cy="969" r="8"/><circle cx="164.62" cy="966.8" r="8"/><circle cx="172.76" cy="964.68" r="8"/><circle cx="180.6" cy="962.64" r="8"/><circle cx="188.15" cy="960.68" r="8"/><circle cx="195.43" cy="958.79" r="8"/><circle cx="202.47" cy="956.96" r="8"/><circle cx="209.28" cy="955.02" r="8"/><circle cx="215.87" cy="953.04" r="8"/><circle cx="222.26" cy="951.12" r="8"/><circle cx="228.45" cy="949.26" r="8"/><circle cx="234.47" cy="947.45" r="8"/><circle cx="240.32" cy="945.69" r="8"/><circle cx="246.01" cy="943.86" r="8"/><circle cx="251.54" cy="942.05" r="8"/><circle cx="256.94" cy="940.29" r="8"/><circle cx="262.19" cy="938.57" r="8"/><circle cx="267.32" cy="936.89" r="8"/><circle cx="272.32" cy="935.26" r="8"/><circle cx="277.21" cy="933.66" r="8"/><circle cx="281.98" cy="931.91" r="8"/><circle cx="286.64" cy="930.17" r="8"/><circle cx="291.21" cy="928.47" r="8"/><circle cx="295.67" cy="926.81" r="8"/><circle cx="300.04" cy="925.18" r="8"/><circle cx="304.32" cy="923.44" r="8"/><circle cx="308.52" cy="921.73" r="8"/><circle cx="312.63" cy="920.06" r="8"/><circle cx="316.66" cy="918.42" r="8"/><circle cx="320.61" cy="916.81" r="8"/><circle cx="324.49" cy="915.23" r="8"/><circle cx="328.3" cy="913.68" r="8"/><circle cx="332.04" cy="912.16" r="8"/><circle cx="335.72" cy="910.66" r="8"/><circle cx="339.33" cy="909.19" r="8"/><circle cx="342.87" cy="907.75" r="8"/><circle cx="346.36" cy="906.33" r="8"/><circle cx="349.8" cy="904.9" r="8"/><circle cx="353.17" cy="903.43" r="8"/><circle cx="356.49" cy="902" r="8"/><circle cx="359.76" cy="900.58" r="8"/><circle cx="362.98" cy="899.19" r="8"/><circle cx="366.15" cy="897.81" r="8"/><circle cx="369.27" cy="896.46" r="8"/><circle cx="372.35" cy="895.13" r="8"/><circle cx="375.38" cy="893.82" r="8"/><circle cx="378.36" cy="892.53" r="8"/><circle cx="381.31" cy="891.25" r="8"/><circle cx="384.21" cy="889.99" r="8"/><circle cx="387.08" cy="888.75" r="8"/><circle cx="389.9" cy="887.53" r="8"/><circle cx="392.69" cy="886.32" r="8"/><circle cx="395.44" cy="885.13" r="8"/><circle cx="398.15" cy="883.93" r="8"/><circle cx="400.83" cy="882.71" r="8"/><circle cx="403.47" cy="881.51" r="8"/><circle cx="406.08" cy="880.33" r="8"/><circle cx="408.66" cy="879.15" r="8"/><circle cx="411.21" cy="878" r="8"/><circle cx="413.73" cy="876.85" r="8"/><circle cx="416.21" cy="875.72" r="8"/><circle cx="418.67" cy="874.6" r="8"/><circle cx="421.1" cy="873.5" r="8"/><circle cx="423.5" cy="872.41" r="8"/><circle cx="425.87" cy="871.33" r="8"/><circle cx="428.22" cy="870.27" r="8"/><circle cx="430.54" cy="869.21" r="8"/><circle cx="432.83" cy="868.17" r="8"/><circle cx="435.1" cy="867.14" r="8"/><circle cx="437.34" cy="866.12" r="8"/><circle cx="439.56" cy="865.11" r="8"/><circle cx="441.76" cy="864.11" r="8"/><circle cx="443.93" cy="863.12" r="8"/><circle cx="446.08" cy="862.16" r="8"/><circle cx="448.21" cy="861.23" r="8"/><circle cx="450.32" cy="860.31" r="8"/><circle cx="452.41" cy="859.39" r="8"/><circle cx="454.47" cy="858.49" r="8"/><circle cx="456.52" cy="857.6" r="8"/><circle cx="458.54" cy="856.71" r="8"/><circle cx="460.55" cy="855.83" r="8"/><circle cx="462.54" cy="854.97" r="8"/><circle cx="464.5" cy="854.11" r="8"/><circle cx="466.45" cy="853.25" r="8"/><circle cx="468.38" cy="852.41" r="8"/><circle cx="470.3" cy="851.57" r="8"/><circle cx="472.19" cy="850.74" r="8"/><circle cx="474.07" cy="849.92" r="8"/><circle cx="475.93" cy="849.11" r="8"/><circle cx="477.78" cy="848.3" r="8"/><circle cx="479.61" cy="847.5" r="8"/><circle cx="481.42" cy="846.71" r="8"/><circle cx="483.22" cy="845.93" r="8"/><circle cx="485" cy="845.15" r="8"/><circle cx="486.77" cy="844.37" r="8"/><circle cx="488.52" cy="843.61" r="8"/><circle cx="490.26" cy="842.85" r="8"/><circle cx="491.98" cy="842.1" r="8"/><circle cx="493.69" cy="841.35" r="8"/><circle cx="495.38" cy="840.62" r="8"/><circle cx="497.06" cy="839.9" r="8"/><circle cx="498.73" cy="839.18" r="8"/><circle cx="500.38" cy="838.47" r="8"/><circle cx="502.03" cy="837.76" r="8"/><circle cx="503.65" cy="837.07" r="8"/><circle cx="505.27" cy="836.37" r="8"/><circle cx="506.87" cy="835.68" r="8"/><circle cx="508.46" cy="835" r="8"/><circle cx="510.04" cy="834.32" r="8"/><circle cx="511.61" cy="833.65" r="8"/><circle cx="513.16" cy="832.98" r="8"/><circle cx="514.71" cy="832.32" r="8"/><circle cx="516.24" cy="831.66" r="8"/><circle cx="517.76" cy="831" r="8"/><circle cx="519.27" cy="830.35" r="8"/><circle cx="520.77" cy="829.71" r="8"/><circle cx="522.26" cy="829.07" r="8"/><circle cx="523.73" cy="828.44" r="8"/><circle cx="525.2" cy="827.81" r="8"/><circle cx="526.66" cy="827.18" r="8"/><circle cx="528.1" cy="826.56" r="8"/><circle cx="529.54" cy="825.94" r="8"/><circle cx="530.97" cy="825.33" r="8"/><circle cx="532.39" cy="824.72" r="8"/><circle cx="533.79" cy="824.11" r="8"/><circle cx="535.19" cy="823.51" r="8"/><circle cx="536.58" cy="822.92" r="8"/><circle cx="537.96" cy="822.32" r="8"/><circle cx="539.33" cy="821.73" r="8"/><circle cx="540.69" cy="821.15" r="8"/><circle cx="542.04" cy="820.57" r="8"/><circle cx="543.39" cy="820.02" r="8"/><circle cx="544.72" cy="819.48" r="8"/><circle cx="546.05" cy="818.94" r="8"/><circle cx="547.37" cy="818.41" r="8"/><circle cx="548.68" cy="817.88" r="8"/><circle cx="549.98" cy="817.35" r="8"/><circle cx="551.27" cy="816.83" r="8"/><circle cx="552.56" cy="816.31" r="8"/><circle cx="553.83" cy="815.79" r="8"/><circle cx="555.1" cy="815.27" r="8"/><circle cx="556.36" cy="814.76" r="8"/><circle cx="557.62" cy="814.26" r="8"/><circle cx="558.87" cy="813.75" r="8"/><circle cx="560.11" cy="813.25" r="8"/><circle cx="561.34" cy="812.75" r="8"/><circle cx="562.56" cy="812.25" r="8"/><circle cx="563.78" cy="811.76" r="8"/><circle cx="564.99" cy="811.27" r="8"/><circle cx="566.19" cy="810.78" r="8"/><circle cx="567.39" cy="810.3" r="8"/><circle cx="568.58" cy="809.82" r="8"/><circle cx="569.76" cy="809.34" r="8"/><circle cx="570.94" cy="808.86" r="8"/><circle cx="572.11" cy="808.39" r="8"/><circle cx="573.27" cy="807.92" r="8"/><circle cx="574.43" cy="807.45" r="8"/><circle cx="575.58" cy="806.98" r="8"/><circle cx="576.72" cy="806.52" r="8"/><circle cx="577.86" cy="806.06" r="8"/><circle cx="578.99" cy="805.6" r="8"/><circle cx="580.12" cy="805.14" r="8"/><circle cx="581.23" cy="804.69" r="8"/><circle cx="582.35" cy="804.24" r="8"/><circle cx="583.46" cy="803.79" r="8"/><circle cx="584.56" cy="803.35" r="8"/><circle cx="585.65" cy="802.9" r="8"/><circle cx="586.74" cy="802.46" r="8"/><circle cx="587.83" cy="802.02" r="8"/><circle cx="588.9" cy="801.59" r="8"/><circle cx="589.98" cy="801.15" r="8"/><circle cx="591.04" cy="800.72" r="8"/><circle cx="592.11" cy="800.29" r="8"/><circle cx="593.16" cy="799.86" r="8"/><circle cx="594.21" cy="799.43" r="8"/><circle cx="595.26" cy="799.01" r="8"/><circle cx="596.3" cy="798.59" r="8"/></g>
<g fill="#fff" stroke="#d42020" stroke-opacity="0.72" stroke-width="3.9"><circle cx="118.3" cy="1110.91" r="6.6" fill-opacity="0.72"/><circle cx="118.3" cy="1110.91" r="6.6" fill-opacity="0.72"/><circle cx="128.43" cy="1108.25" r="6.6" fill-opacity="0.72"/><circle cx="138.09" cy="1105.71" r="6.6" fill-opacity="0.72"/><circle cx="147.31" cy="1103.29" r="6.6" fill-opacity="0.72"/><circle cx="156.15" cy="1101" r="6.6" fill-opacity="0.72"/><circle cx="164.62" cy="1098.97" r="6.6" fill-opacity="0.72"/><circle cx="172.76" cy="1097.02" r="6.6" fill-opacity="0.72"/><circle cx="180.6" cy="1095.14" r="6.6" fill-opacity="0.72"/><circle cx="188.15" cy="1093.34" r="6.6" fill-opacity="0.72"/><circle cx="195.43" cy="1091.5" r="6.6" fill-opacity="0.72"/><circle cx="202.47" cy="1089.69" r="6.6" fill-opacity="0.72"/><circle cx="209.28" cy="1087.93" r="6.6" fill-opacity="0.72"/><circle cx="215.87" cy="1086.23" r="6.6" fill-opacity="0.72"/><circle cx="222.26" cy="1084.58" r="6.6" fill-opacity="0.72"/><circle cx="228.45" cy="1082.94" r="6.6" fill-opacity="0.72"/><circle cx="234.47" cy="1081.22" r="6.6" fill-opacity="0.72"/><circle cx="240.32" cy="1079.54" r="6.6" fill-opacity="0.72"/><circle cx="246.01" cy="1077.91" r="6.6" fill-opacity="0.72"/><circle cx="251.54" cy="1076.33" r="6.6" fill-opacity="0.72"/><circle cx="256.94" cy="1074.78" r="6.6" fill-opacity="0.72"/><circle cx="262.19" cy="1073.27" r="6.6" fill-opacity="0.72"/><circle cx="267.32" cy="1071.71" r="6.6" fill-opacity="0.72"/><circle cx="272.32" cy="1070.16" r="6.6" fill-opacity="0.72"/><circle cx="277.21" cy="1068.65" r="6.6" fill-opacity="0.72"/><circle cx="281.98" cy="1067.16" r="6.6" fill-opacity="0.72"/><circle cx="286.64" cy="1065.72" r="6.6" fill-opacity="0.72"/><circle cx="291.21" cy="1064.3" r="6.6" fill-opacity="0.72"/><circle cx="295.67" cy="1062.91" r="6.6" fill-opacity="0.72"/><circle cx="300.04" cy="1061.55" r="6.6" fill-opacity="0.72"/><circle cx="304.32" cy="1060.1" r="6.6" fill-opacity="0.72"/><circle cx="308.52" cy="1058.68" r="6.6" fill-opacity="0.72"/><circle cx="312.63" cy="1057.29" r="6.6" fill-opacity="0.72"/><circle cx="316.66" cy="1055.92" r="6.6" fill-opacity="0.72"/><circle cx="320.61" cy="1054.58" r="6.6" fill-opacity="0.72"/><circle cx="324.49" cy="1053.27" r="6.6" fill-opacity="0.72"/><circle cx="328.3" cy="1051.98" r="6.6" fill-opacity="0.72"/><circle cx="332.04" cy="1050.71" r="6.6" fill-opacity="0.72"/><circle cx="335.72" cy="1049.46" r="6.6" fill-opacity="0.71"/><circle cx="339.33" cy="1048.05" r="6.6" fill-opacity="0.7"/><circle cx="342.87" cy="1046.63" r="6.6" fill-opacity="0.7"/><circle cx="346.36" cy="1045.23" r="6.6" fill-opacity="0.69"/><circle cx="349.8" cy="1043.86" r="6.6" fill-opacity="0.68"/><circle cx="353.17" cy="1042.5" r="6.6" fill-opacity="0.67"/><circle cx="356.49" cy="1041.17" r="6.6" fill-opacity="0.67"/><circle cx="359.76" cy="1039.86" r="6.6" fill-opacity="0.66"/><circle cx="362.98" cy="1038.57" r="6.6" fill-opacity="0.65"/><circle cx="366.15" cy="1037.31" r="6.6" fill-opacity="0.64"/><circle cx="369.27" cy="1036.06" r="6.6" fill-opacity="0.64"/><circle cx="372.35" cy="1034.82" r="6.6" fill-opacity="0.63"/><circle cx="375.38" cy="1033.61" r="6.6" fill-opacity="0.62"/><circle cx="378.36" cy="1032.37" r="6.6" fill-opacity="0.61"/><circle cx="381.31" cy="1031.11" r="6.6" fill-opacity="0.61"/><circle cx="384.21" cy="1029.86" r="6.6" fill-opacity="0.6"/><circle cx="387.08" cy="1028.63" r="6.6" fill-opacity="0.59"/><circle cx="389.9" cy="1027.42" r="6.6" fill-opacity="0.58"/><circle cx="392.69" cy="1026.22" r="6.6" fill-opacity="0.57"/><circle cx="395.44" cy="1025.04" r="6.6" fill-opacity="0.57"/><circle cx="398.15" cy="1023.88" r="6.6" fill-opacity="0.56"/><circle cx="400.83" cy="1022.73" r="6.6" fill-opacity="0.55"/><circle cx="403.47" cy="1021.59" r="6.6" fill-opacity="0.54"/><circle cx="406.08" cy="1020.47" r="6.6" fill-opacity="0.54"/><circle cx="408.66" cy="1019.36" r="6.6" fill-opacity="0.53"/><circle cx="411.21" cy="1018.27" r="6.6" fill-opacity="0.52"/><circle cx="413.73" cy="1017.17" r="6.6" fill-opacity="0.51"/><circle cx="416.21" cy="1016.06" r="6.6" fill-opacity="0.51"/><circle cx="418.67" cy="1014.95" r="6.6" fill-opacity="0.5"/><circle cx="421.1" cy="1013.86" r="6.6" fill-opacity="0.49"/><circle cx="423.5" cy="1012.78" r="6.6" fill-opacity="0.48"/><circle cx="425.87" cy="1011.71" r="6.6" fill-opacity="0.47"/><circle cx="428.22" cy="1010.66" r="6.6" fill-opacity="0.47"/><circle cx="430.54" cy="1009.61" r="6.6" fill-opacity="0.46"/><circle cx="432.83" cy="1008.58" r="6.6" fill-opacity="0.45"/><circle cx="435.1" cy="1007.56" r="6.6" fill-opacity="0.44"/><circle cx="437.34" cy="1006.55" r="6.6" fill-opacity="0.44"/><circle cx="439.56" cy="1005.56" r="6.6" fill-opacity="0.43"/><circle cx="441.76" cy="1004.57" r="6.6" fill-opacity="0.42"/><circle cx="443.93" cy="1003.59" r="6.6" fill-opacity="0.41"/><circle cx="446.08" cy="1002.63" r="6.6" fill-opacity="0.41"/><circle cx="448.21" cy="1001.69" r="6.6" fill-opacity="0.4"/><circle cx="450.32" cy="1000.76" r="6.6" fill-opacity="0.39"/><circle cx="452.41" cy="999.84" r="6.6" fill-opacity="0.38"/><circle cx="454.47" cy="998.93" r="6.6" fill-opacity="0.38"/><circle cx="456.52" cy="998.02" r="6.6" fill-opacity="0.37"/><circle cx="458.54" cy="997.13" r="6.6" fill-opacity="0.36"/><circle cx="460.55" cy="996.24" r="6.6" fill-opacity="0.35"/><circle cx="462.54" cy="995.36" r="6.6" fill-opacity="0.34"/><circle cx="464.5" cy="994.49" r="6.6" fill-opacity="0.34"/><circle cx="466.45" cy="993.63" r="6.6" fill-opacity="0.33"/><circle cx="468.38" cy="992.78" r="6.6" fill-opacity="0.32"/><circle cx="470.3" cy="991.93" r="6.6" fill-opacity="0.31"/><circle cx="472.19" cy="991.09" r="6.6" fill-opacity="0.31"/><circle cx="474.07" cy="990.26" r="6.6" fill-opacity="0.3"/><circle cx="475.93" cy="989.44" r="6.6" fill-opacity="0.29"/><circle cx="477.78" cy="988.63" r="6.6" fill-opacity="0.28"/><circle cx="479.61" cy="987.82" r="6.6" fill-opacity="0.28"/><circle cx="481.42" cy="987.02" r="6.6" fill-opacity="0.27"/><circle cx="483.22" cy="986.22" r="6.6" fill-opacity="0.26"/><circle cx="485" cy="985.44" r="6.6" fill-opacity="0.25"/><circle cx="486.77" cy="984.65" r="6.6" fill-opacity="0.25"/><circle cx="488.52" cy="983.88" r="6.6" fill-opacity="0.24"/><circle cx="490.26" cy="983.11" r="6.6" fill-opacity="0.23"/><circle cx="491.98" cy="982.35" r="6.6" fill-opacity="0.22"/><circle cx="493.69" cy="981.57" r="6.6" fill-opacity="0.21"/><circle cx="495.38" cy="980.77" r="6.6" fill-opacity="0.21"/><circle cx="497.06" cy="979.98" r="6.6" fill-opacity="0.2"/><circle cx="498.73" cy="979.19" r="6.6" fill-opacity="0.19"/><circle cx="500.38" cy="978.41" r="6.6" fill-opacity="0.18"/><circle cx="502.03" cy="977.63" r="6.6" fill-opacity="0.18"/><circle cx="503.65" cy="976.86" r="6.6" fill-opacity="0.17"/><circle cx="505.27" cy="976.1" r="6.6" fill-opacity="0.16"/><circle cx="506.87" cy="975.34" r="6.6" fill-opacity="0.15"/><circle cx="508.46" cy="974.59" r="6.6" fill-opacity="0.15"/><circle cx="510.04" cy="973.84" r="6.6" fill-opacity="0.14"/><circle cx="511.61" cy="973.1" r="6.6" fill-opacity="0.13"/><circle cx="513.16" cy="972.37" r="6.6" fill-opacity="0.12"/><circle cx="514.71" cy="971.64" r="6.6" fill-opacity="0.11"/><circle cx="516.24" cy="970.92" r="6.6" fill-opacity="0.11"/><circle cx="517.76" cy="970.2" r="6.6" fill-opacity="0.1"/><circle cx="519.27" cy="969.48" r="6.6" fill-opacity="0.09"/><circle cx="520.77" cy="968.77" r="6.6" fill-opacity="0.08"/><circle cx="522.26" cy="968.07" r="6.6" fill-opacity="0.08"/><circle cx="523.73" cy="967.37" r="6.6" fill-opacity="0.07"/><circle cx="525.2" cy="966.68" r="6.6" fill-opacity="0.06"/><circle cx="526.66" cy="965.99" r="6.6" fill-opacity="0.05"/><circle cx="528.1" cy="965.31" r="6.6" fill-opacity="0.05"/><circle cx="529.54" cy="964.63" r="6.6" fill-opacity="0.04"/><circle cx="530.97" cy="963.94" r="6.6" fill-opacity="0.03"/><circle cx="532.39" cy="963.27" r="6.6" fill-opacity="0.02"/><circle cx="533.79" cy="962.59" r="6.6" fill-opacity="0.02"/><circle cx="535.19" cy="961.92" r="6.6" fill-opacity="0.01"/><circle cx="536.58" cy="961.26" r="6.6" fill-opacity="0"/><circle cx="537.96" cy="960.6" r="6.6" fill-opacity="0"/><circle cx="539.33" cy="959.94" r="6.6" fill-opacity="0"/><circle cx="540.69" cy="959.29" r="6.6" fill-opacity="0"/><circle cx="542.04" cy="958.64" r="6.6" fill-opacity="0"/><circle cx="543.39" cy="958" r="6.6" fill-opacity="0"/><circle cx="544.72" cy="957.36" r="6.6" fill-opacity="0"/><circle cx="546.05" cy="956.73" r="6.6" fill-opacity="0"/><circle cx="547.37" cy="956.09" r="6.6" fill-opacity="0"/><circle cx="548.68" cy="955.47" r="6.6" fill-opacity="0"/><circle cx="549.98" cy="954.84" r="6.6" fill-opacity="0"/><circle cx="551.27" cy="954.22" r="6.6" fill-opacity="0"/><circle cx="552.56" cy="953.61" r="6.6" fill-opacity="0"/><circle cx="553.83" cy="953" r="6.6" fill-opacity="0"/><circle cx="555.1" cy="952.39" r="6.6" fill-opacity="0"/><circle cx="556.36" cy="951.79" r="6.6" fill-opacity="0"/><circle cx="557.62" cy="951.19" r="6.6" fill-opacity="0"/><circle cx="558.87" cy="950.59" r="6.6" fill-opacity="0"/><circle cx="560.11" cy="949.99" r="6.6" fill-opacity="0"/><circle cx="561.34" cy="949.4" r="6.6" fill-opacity="0"/><circle cx="562.56" cy="948.82" r="6.6" fill-opacity="0"/><circle cx="563.78" cy="948.24" r="6.6" fill-opacity="0"/><circle cx="564.99" cy="947.66" r="6.6" fill-opacity="0"/><circle cx="566.19" cy="947.08" r="6.6" fill-opacity="0"/><circle cx="567.39" cy="946.51" r="6.6" fill-opacity="0"/><circle cx="568.58" cy="945.94" r="6.6" fill-opacity="0"/><circle cx="569.76" cy="945.37" r="6.6" fill-opacity="0"/><circle cx="570.94" cy="944.81" r="6.6" fill-opacity="0"/><circle cx="572.11" cy="944.24" r="6.6" fill-opacity="0"/><circle cx="573.27" cy="943.63" r="6.6" fill-opacity="0"/><circle cx="574.43" cy="943.02" r="6.6" fill-opacity="0"/><circle cx="575.58" cy="942.41" r="6.6" fill-opacity="0"/><circle cx="576.72" cy="941.81" r="6.6" fill-opacity="0"/><circle cx="577.86" cy="941.2" r="6.6" fill-opacity="0"/><circle cx="578.99" cy="940.61" r="6.6" fill-opacity="0"/><circle cx="580.12" cy="940.01" r="6.6" fill-opacity="0"/><circle cx="581.23" cy="939.42" r="6.6" fill-opacity="0"/><circle cx="582.35" cy="938.83" r="6.6" fill-opacity="0"/><circle cx="583.46" cy="938.25" r="6.6" fill-opacity="0"/><circle cx="584.56" cy="937.67" r="6.6" fill-opacity="0"/><circle cx="585.65" cy="937.09" r="6.6" fill-opacity="0"/><circle cx="586.74" cy="936.51" r="6.6" fill-opacity="0"/><circle cx="587.83" cy="935.94" r="6.6" fill-opacity="0"/><circle cx="588.9" cy="935.37" r="6.6" fill-opacity="0"/><circle cx="589.98" cy="934.8" r="6.6" fill-opacity="0"/><circle cx="591.04" cy="934.24" r="6.6" fill-opacity="0"/><circle cx="592.11" cy="933.68" r="6.6" fill-opacity="0"/><circle cx="593.16" cy="933.12" r="6.6" fill-opacity="0"/><circle cx="594.21" cy="932.57" r="6.6" fill-opacity="0"/><circle cx="595.26" cy="932.01" r="6.6" fill-opacity="0"/><circle cx="596.3" cy="931.46" r="6.6" fill-opacity="0"/></g>
<line x1="96.9" y1="1003" x2="616" y2="795.88" stroke="#990000" stroke-width="1.8" />
<line x1="96.9" y1="1138.7" x2="616" y2="931.58" stroke="#990000" stroke-width="1.8" />
</g>
<rect x="96.9" y="733.2" width="519.1" height="417" fill="none" stroke="#000" stroke-width="3"/>
<line x1="96.9" y1="1149.78" x2="92.9" y2="1149.78" stroke="#000" stroke-width="2.7" />
<line x1="96.9" y1="1134.54" x2="92.9" y2="1134.54" stroke="#000" stroke-width="2.7" />
<line x1="96.9" y1="1120.9" x2="88.8" y2="1120.9" stroke="#000" stroke-width="2.7" />
<line x1="96.9" y1="1031.19" x2="92.9" y2="1031.19" stroke="#000" stroke-width="2.7" />
<line x1="96.9" y1="978.72" x2="92.9" y2="978.72" stroke="#000" stroke-width="2.7" />
<line x1="96.9" y1="941.49" x2="92.9" y2="941.49" stroke="#000" stroke-width="2.7" />
<line x1="96.9" y1="912.61" x2="92.9" y2="912.61" stroke="#000" stroke-width="2.7" />
<line x1="96.9" y1="889.01" x2="92.9" y2="889.01" stroke="#000" stroke-width="2.7" />
<line x1="96.9" y1="869.06" x2="92.9" y2="869.06" stroke="#000" stroke-width="2.7" />
<line x1="96.9" y1="851.78" x2="92.9" y2="851.78" stroke="#000" stroke-width="2.7" />
<line x1="96.9" y1="836.54" x2="92.9" y2="836.54" stroke="#000" stroke-width="2.7" />
<line x1="96.9" y1="822.9" x2="88.8" y2="822.9" stroke="#000" stroke-width="2.7" />
<line x1="96.9" y1="733.19" x2="92.9" y2="733.19" stroke="#000" stroke-width="2.7" />
<line x1="96.43" y1="1150.2" x2="96.43" y2="1154.2" stroke="#000" stroke-width="2.7" />
<line x1="118.3" y1="1150.2" x2="118.3" y2="1158" stroke="#000" stroke-width="2.7" />
<line x1="262.19" y1="1150.2" x2="262.19" y2="1154.2" stroke="#000" stroke-width="2.7" />
<line x1="346.36" y1="1150.2" x2="346.36" y2="1154.2" stroke="#000" stroke-width="2.7" />
<line x1="406.08" y1="1150.2" x2="406.08" y2="1154.2" stroke="#000" stroke-width="2.7" />
<line x1="452.41" y1="1150.2" x2="452.41" y2="1154.2" stroke="#000" stroke-width="2.7" />
<line x1="490.26" y1="1150.2" x2="490.26" y2="1154.2" stroke="#000" stroke-width="2.7" />
<line x1="522.26" y1="1150.2" x2="522.26" y2="1154.2" stroke="#000" stroke-width="2.7" />
<line x1="549.98" y1="1150.2" x2="549.98" y2="1154.2" stroke="#000" stroke-width="2.7" />
<line x1="574.43" y1="1150.2" x2="574.43" y2="1154.2" stroke="#000" stroke-width="2.7" />
<line x1="596.3" y1="1150.2" x2="596.3" y2="1158" stroke="#000" stroke-width="2.7" />
<text x="42.32" y="832.9" font-size="27">10<tspan font-size="19.5" dy="-10.8">0</tspan></text>
<g fill="#fff"><rect x="42.85" y="829.47" width="6.26" height="5.03"/><rect x="51.5" y="829.47" width="5.84" height="5.03"/></g>
<text x="31.34" y="1131.2" font-size="27">10<tspan font-size="19.5" dy="-10.8">−1</tspan></text>
<g fill="#fff"><rect x="31.86" y="1127.77" width="6.26" height="5.03"/><rect x="40.51" y="1127.77" width="5.84" height="5.03"/></g>
<g fill="#fff"><rect x="73.14" y="1117.59" width="4.52" height="4.41"/><rect x="79.38" y="1117.59" width="4.22" height="4.41"/></g>
<text x="98.16" y="1189.6" font-size="27">10<tspan font-size="19.5" dy="-10.8">4</tspan></text>
<g fill="#fff"><rect x="98.69" y="1186.17" width="6.26" height="5.03"/><rect x="107.34" y="1186.17" width="5.84" height="5.03"/></g>
<text x="576.76" y="1189.8" font-size="27">10<tspan font-size="19.5" dy="-10.8">5</tspan></text>
<g fill="#fff"><rect x="577.29" y="1186.37" width="6.26" height="5.03"/><rect x="585.94" y="1186.37" width="5.84" height="5.03"/></g>
<text x="214.21" y="1220.7" font-size="35.3" text-anchor="start" fill="#000" >Temperature / mK</text>
<g transform="translate(41.4,1071) rotate(-90)"><text x="-1.85" y="0" font-size="36.5">Conductance / S</text></g>
<g transform="translate(364.5,855.4) rotate(-17.3)"><text x="-2.24" y="0" font-size="44.5">G</text><text x="32.5" y="11.5" font-size="29.5" letter-spacing="0.13">CNT1</text><g fill="#fff"><rect x="94.11" y="7.87" width="6.84" height="5.23"/><rect x="103.56" y="7.87" width="6.38" height="5.23"/></g><path d="M138.1,-21.1 C132.96,-21.1 129.36,-17.04 127.56,-11.47 C124.48,-7.19 122.17,-4.2 119.08,-4.2 C114.97,-4.2 113.3,-7.62 113.3,-11.9 C113.3,-16.18 115.48,-19.6 119.34,-19.6 C122.68,-19.6 125.25,-16.18 127.56,-11.47 C129.36,-5.91 132.96,-2.7 138.1,-2.7" stroke="#000" stroke-width="2.7" fill="none"/><text x="154" y="0" font-size="44.5">T</text><text x="181.41" y="-13" font-size="28.0" letter-spacing="0.97">0.64</text></g>
<g transform="translate(381.3,988.2) rotate(-17.3)"><text x="-2.24" y="0" font-size="44.5">G</text><text x="32.5" y="11.5" font-size="29.5" letter-spacing="0.15">CNT2</text><path d="M138.1,-21.1 C132.96,-21.1 129.36,-17.04 127.56,-11.47 C124.48,-7.19 122.17,-4.2 119.08,-4.2 C114.97,-4.2 113.3,-7.62 113.3,-11.9 C113.3,-16.18 115.48,-19.6 119.34,-19.6 C122.68,-19.6 125.25,-16.18 127.56,-11.47 C129.36,-5.91 132.96,-2.7 138.1,-2.7" stroke="#000" stroke-width="2.7" fill="none"/><text x="154" y="0" font-size="44.5">T</text><text x="181.41" y="-13" font-size="28.0" letter-spacing="0.97">0.64</text></g>
<g clip-path="url(#clipe)">
<g fill="#2a6fe0" fill-opacity="0.7"><path d="M836.78,1093.33L846.58,1110.33L826.98,1110.33Z"/><path d="M850.25,1088.73L860.05,1105.73L840.45,1105.73Z"/><path d="M863.07,1084.35L872.87,1101.35L853.27,1101.35Z"/><path d="M875.31,1080.17L885.11,1097.17L865.51,1097.17Z"/><path d="M887.02,1076.17L896.82,1093.17L877.22,1093.17Z"/><path d="M898.24,1072.34L908.04,1089.34L888.44,1089.34Z"/><path d="M909.02,1068.66L918.82,1085.66L899.22,1085.66Z"/><path d="M919.37,1065.13L929.17,1082.13L909.57,1082.13Z"/><path d="M929.35,1061.72L939.15,1078.72L919.55,1078.72Z"/><path d="M938.97,1058.44L948.77,1075.44L929.17,1075.44Z"/><path d="M948.25,1055.7L958.05,1072.7L938.45,1072.7Z"/><path d="M957.23,1053.09L967.03,1070.09L947.43,1070.09Z"/><path d="M965.91,1050.56L975.71,1067.56L956.11,1067.56Z"/><path d="M974.33,1048.11L984.13,1065.11L964.53,1065.11Z"/><path d="M982.49,1045.74L992.29,1062.74L972.69,1062.74Z"/><path d="M990.41,1043.43L1000.21,1060.43L980.61,1060.43Z"/><path d="M998.1,1041.2L1007.9,1058.2L988.3,1058.2Z"/><path d="M1005.58,1039.02L1015.38,1056.02L995.78,1056.02Z"/><path d="M1012.86,1036.9L1022.66,1053.9L1003.06,1053.9Z"/><path d="M1019.95,1034.84L1029.75,1051.84L1010.15,1051.84Z"/><path d="M1026.85,1032.83L1036.65,1049.83L1017.05,1049.83Z"/><path d="M1033.58,1030.87L1043.38,1047.87L1023.78,1047.87Z"/><path d="M1040.15,1028.96L1049.95,1045.96L1030.35,1045.96Z"/><path d="M1046.56,1027.09L1056.36,1044.09L1036.76,1044.09Z"/><path d="M1052.82,1025.27L1062.62,1042.27L1043.02,1042.27Z"/><path d="M1058.94,1023.49L1068.74,1040.49L1049.14,1040.49Z"/><path d="M1064.93,1021.75L1074.73,1038.75L1055.13,1038.75Z"/><path d="M1070.78,1020.05L1080.58,1037.05L1060.98,1037.05Z"/><path d="M1076.51,1018.38L1086.31,1035.38L1066.71,1035.38Z"/><path d="M1082.12,1016.75L1091.92,1033.75L1072.32,1033.75Z"/><path d="M1087.62,1015.15L1097.42,1032.15L1077.82,1032.15Z"/><path d="M1093,1013.58L1102.8,1030.58L1083.2,1030.58Z"/><path d="M1098.28,1012.04L1108.08,1029.04L1088.48,1029.04Z"/><path d="M1103.46,1010.54L1113.26,1027.54L1093.66,1027.54Z"/><path d="M1108.54,1009.06L1118.34,1026.06L1098.74,1026.06Z"/><path d="M1113.53,1007.61L1123.33,1024.61L1103.73,1024.61Z"/><path d="M1118.42,1006.18L1128.22,1023.18L1108.62,1023.18Z"/><path d="M1123.23,1004.78L1133.03,1021.78L1113.43,1021.78Z"/><path d="M1127.96,1003.41L1137.76,1020.41L1118.16,1020.41Z"/><path d="M1132.6,1002.06L1142.4,1019.06L1122.8,1019.06Z"/><path d="M1137.16,1000.73L1146.96,1017.73L1127.36,1017.73Z"/><path d="M1141.65,999.42L1151.45,1016.42L1131.85,1016.42Z"/><path d="M1146.06,998.14L1155.86,1015.14L1136.26,1015.14Z"/><path d="M1150.41,996.88L1160.21,1013.88L1140.61,1013.88Z"/><path d="M1154.68,995.63L1164.48,1012.63L1144.88,1012.63Z"/><path d="M1158.89,994.41L1168.69,1011.41L1149.09,1011.41Z"/><path d="M1163.03,993.2L1172.83,1010.2L1153.23,1010.2Z"/><path d="M1167.11,992.01L1176.91,1009.01L1157.31,1009.01Z"/><path d="M1171.13,990.85L1180.93,1007.85L1161.33,1007.85Z"/><path d="M1175.09,989.69L1184.89,1006.69L1165.29,1006.69Z"/><path d="M1178.99,988.56L1188.79,1005.56L1169.19,1005.56Z"/><path d="M1182.84,987.44L1192.64,1004.44L1173.04,1004.44Z"/><path d="M1186.63,986.33L1196.43,1003.33L1176.83,1003.33Z"/><path d="M1190.37,985.25L1200.17,1002.25L1180.57,1002.25Z"/><path d="M1194.06,984.17L1203.86,1001.17L1184.26,1001.17Z"/><path d="M1197.7,983.11L1207.5,1000.11L1187.9,1000.11Z"/><path d="M1201.29,982.07L1211.09,999.07L1191.49,999.07Z"/><path d="M1204.83,981.04L1214.63,998.04L1195.03,998.04Z"/><path d="M1208.33,980.02L1218.13,997.02L1198.53,997.02Z"/><path d="M1211.78,979.02L1221.58,996.02L1201.98,996.02Z"/><path d="M1215.19,978.02L1224.99,995.02L1205.39,995.02Z"/><path d="M1218.55,977.04L1228.35,994.04L1208.75,994.04Z"/><path d="M1221.88,976.14L1231.68,993.14L1212.08,993.14Z"/><path d="M1225.16,975.29L1234.96,992.29L1215.36,992.29Z"/><path d="M1228.41,974.46L1238.21,991.46L1218.61,991.46Z"/><path d="M1231.61,973.63L1241.41,990.63L1221.81,990.63Z"/><path d="M1234.78,972.82L1244.58,989.82L1224.98,989.82Z"/><path d="M1237.91,972.01L1247.71,989.01L1228.11,989.01Z"/><path d="M1241.01,971.21L1250.81,988.21L1231.21,988.21Z"/><path d="M1244.07,970.42L1253.87,987.42L1234.27,987.42Z"/><path d="M1247.09,969.64L1256.89,986.64L1237.29,986.64Z"/><path d="M1250.08,968.87L1259.88,985.87L1240.28,985.87Z"/><path d="M1253.04,968.11L1262.84,985.11L1243.24,985.11Z"/><path d="M1255.97,967.36L1265.77,984.36L1246.17,984.36Z"/><path d="M1258.86,966.61L1268.66,983.61L1249.06,983.61Z"/><path d="M1261.73,965.87L1271.53,982.87L1251.93,982.87Z"/><path d="M1264.56,965.14L1274.36,982.14L1254.76,982.14Z"/><path d="M1267.37,964.42L1277.17,981.42L1257.57,981.42Z"/><path d="M1270.14,963.7L1279.94,980.7L1260.34,980.7Z"/><path d="M1272.89,963L1282.69,980L1263.09,980Z"/><path d="M1275.61,962.29L1285.41,979.29L1265.81,979.29Z"/></g>
<g fill="#34a9ff" fill-opacity="0.55"><path d="M821.15,1119.49L830.95,1102.49L811.35,1102.49Z"/><path d="M881.23,1098.09L891.03,1081.09L871.43,1081.09Z"/><path d="M892.69,1094.62L902.49,1077.62L882.89,1077.62Z"/><path d="M903.68,1091.33L913.48,1074.33L893.88,1074.33Z"/><path d="M914.24,1088.2L924.04,1071.2L904.44,1071.2Z"/><path d="M924.41,1085.21L934.21,1068.21L914.61,1068.21Z"/><path d="M934.2,1082.34L944,1065.34L924.4,1065.34Z"/><path d="M943.65,1079.57L953.45,1062.57L933.85,1062.57Z"/><path d="M952.78,1076.91L962.58,1059.91L942.98,1059.91Z"/><path d="M961.61,1074.33L971.41,1057.33L951.81,1057.33Z"/><path d="M970.15,1071.84L979.95,1054.84L960.35,1054.84Z"/><path d="M978.44,1069.43L988.24,1052.43L968.64,1052.43Z"/><path d="M986.48,1067.08L996.28,1050.08L976.68,1050.08Z"/><path d="M994.28,1064.81L1004.08,1047.81L984.48,1047.81Z"/><path d="M1001.87,1062.6L1011.67,1045.6L992.07,1045.6Z"/><path d="M1009.25,1060.46L1019.05,1043.46L999.45,1043.46Z"/><path d="M1016.43,1058.37L1026.23,1041.37L1006.63,1041.37Z"/><path d="M1023.42,1056.33L1033.22,1039.33L1013.62,1039.33Z"/><path d="M1030.24,1054.35L1040.04,1037.35L1020.44,1037.35Z"/><path d="M1036.89,1052.41L1046.69,1035.41L1027.09,1035.41Z"/><path d="M1043.38,1050.52L1053.18,1033.52L1033.58,1033.52Z"/><path d="M1049.71,1048.68L1059.51,1031.68L1039.91,1031.68Z"/><path d="M1055.9,1046.88L1065.7,1029.88L1046.1,1029.88Z"/><path d="M1061.95,1045.12L1071.75,1028.12L1052.15,1028.12Z"/><path d="M1067.87,1043.39L1077.67,1026.39L1058.07,1026.39Z"/><path d="M1073.66,1041.71L1083.46,1024.71L1063.86,1024.71Z"/><path d="M1079.33,1040.06L1089.13,1023.06L1069.53,1023.06Z"/><path d="M1084.88,1038.44L1094.68,1021.44L1075.08,1021.44Z"/><path d="M1090.32,1036.86L1100.12,1019.86L1080.52,1019.86Z"/><path d="M1095.65,1035.31L1105.45,1018.31L1085.85,1018.31Z"/><path d="M1100.88,1033.79L1110.68,1016.79L1091.08,1016.79Z"/><path d="M1106.01,1032.29L1115.81,1015.29L1096.21,1015.29Z"/><path d="M1111.05,1030.83L1120.85,1013.83L1101.25,1013.83Z"/><path d="M1115.99,1029.39L1125.79,1012.39L1106.19,1012.39Z"/><path d="M1120.84,1027.98L1130.64,1010.98L1111.04,1010.98Z"/><path d="M1125.6,1026.59L1135.4,1009.59L1115.8,1009.59Z"/><path d="M1130.29,1025.23L1140.09,1008.23L1120.49,1008.23Z"/><path d="M1134.89,1023.89L1144.69,1006.89L1125.09,1006.89Z"/><path d="M1139.42,1022.57L1149.22,1005.57L1129.62,1005.57Z"/><path d="M1143.87,1021.28L1153.67,1004.28L1134.07,1004.28Z"/><path d="M1148.24,1020L1158.04,1003L1138.44,1003Z"/><path d="M1152.55,1018.75L1162.35,1001.75L1142.75,1001.75Z"/><path d="M1156.79,1017.52L1166.59,1000.52L1146.99,1000.52Z"/><path d="M1160.97,1016.3L1170.77,999.3L1151.17,999.3Z"/><path d="M1165.08,1015.11L1174.88,998.11L1155.28,998.11Z"/><path d="M1169.13,1013.93L1178.93,996.93L1159.33,996.93Z"/><path d="M1173.12,1012.77L1182.92,995.77L1163.32,995.77Z"/><path d="M1177.05,1011.62L1186.85,994.62L1167.25,994.62Z"/><path d="M1180.92,1010.5L1190.72,993.5L1171.12,993.5Z"/><path d="M1184.74,1009.38L1194.54,992.38L1174.94,992.38Z"/><path d="M1188.51,1008.29L1198.31,991.29L1178.71,991.29Z"/><path d="M1192.22,1007.21L1202.02,990.21L1182.42,990.21Z"/><path d="M1195.89,1006.14L1205.69,989.14L1186.09,989.14Z"/><path d="M1199.5,1005.09L1209.3,988.09L1189.7,988.09Z"/><path d="M1203.07,1004.05L1212.87,987.05L1193.27,987.05Z"/><path d="M1206.59,1003.03L1216.39,986.03L1196.79,986.03Z"/><path d="M1210.06,1002.02L1219.86,985.02L1200.26,985.02Z"/><path d="M1213.49,1001.02L1223.29,984.02L1203.69,984.02Z"/><path d="M1216.88,1000.03L1226.68,983.03L1207.08,983.03Z"/><path d="M1220.22,999.06L1230.02,982.06L1210.42,982.06Z"/><path d="M1223.53,998.1L1233.33,981.1L1213.73,981.1Z"/><path d="M1226.79,997.15L1236.59,980.15L1216.99,980.15Z"/><path d="M1230.01,996.21L1239.81,979.21L1220.21,979.21Z"/><path d="M1233.2,995.28L1243,978.28L1223.4,978.28Z"/><path d="M1236.35,994.37L1246.15,977.37L1226.55,977.37Z"/><path d="M1239.46,993.46L1249.26,976.46L1229.66,976.46Z"/><path d="M1242.54,992.56L1252.34,975.56L1232.74,975.56Z"/><path d="M1245.58,991.68L1255.38,974.68L1235.78,974.68Z"/><path d="M1248.59,990.8L1258.39,973.8L1238.79,973.8Z"/><path d="M1251.57,989.94L1261.37,972.94L1241.77,972.94Z"/><path d="M1254.51,989.08L1264.31,972.08L1244.71,972.08Z"/><path d="M1257.42,988.23L1267.22,971.23L1247.62,971.23Z"/><path d="M1260.3,987.4L1270.1,970.4L1250.5,970.4Z"/><path d="M1263.15,986.57L1272.95,969.57L1253.35,969.57Z"/><path d="M1265.97,985.75L1275.77,968.75L1256.17,968.75Z"/><path d="M1268.76,984.93L1278.56,967.93L1258.96,967.93Z"/><path d="M1271.52,984.13L1281.32,967.13L1261.72,967.13Z"/><path d="M1274.26,983.34L1284.06,966.34L1264.46,966.34Z"/><path d="M1276.96,982.55L1286.76,965.55L1267.16,965.55Z"/></g>
<line x1="784" y1="1117" x2="1302.8" y2="964.3" stroke="#20a0ff" stroke-width="2.2" />
<line x1="784" y1="1115" x2="1302.8" y2="963.6" stroke="#1464d8" stroke-width="2.3" />
<g fill="#6f2fb5" fill-opacity="0.78"><path d="M836.78,920.42L846.58,937.42L826.98,937.42Z"/><path d="M850.25,918.23L860.05,935.23L840.45,935.23Z"/><path d="M863.07,916.15L872.87,933.15L853.27,933.15Z"/><path d="M875.31,914.17L885.11,931.17L865.51,931.17Z"/><path d="M887.02,912.27L896.82,929.27L877.22,929.27Z"/><path d="M898.24,910.45L908.04,927.45L888.44,927.45Z"/><path d="M909.02,908.7L918.82,925.7L899.22,925.7Z"/><path d="M919.37,907.02L929.17,924.02L909.57,924.02Z"/><path d="M929.35,905.41L939.15,922.41L919.55,922.41Z"/><path d="M938.97,903.85L948.77,920.85L929.17,920.85Z"/><path d="M948.25,902.34L958.05,919.34L938.45,919.34Z"/><path d="M957.23,900.89L967.03,917.89L947.43,917.89Z"/><path d="M965.91,899.48L975.71,916.48L956.11,916.48Z"/><path d="M974.33,898.11L984.13,915.11L964.53,915.11Z"/><path d="M982.49,896.79L992.29,913.79L972.69,913.79Z"/><path d="M990.41,895.5L1000.21,912.5L980.61,912.5Z"/><path d="M998.1,894.26L1007.9,911.26L988.3,911.26Z"/><path d="M1005.58,893.04L1015.38,910.04L995.78,910.04Z"/><path d="M1012.86,891.86L1022.66,908.86L1003.06,908.86Z"/><path d="M1019.95,890.71L1029.75,907.71L1010.15,907.71Z"/><path d="M1026.85,889.59L1036.65,906.59L1017.05,906.59Z"/><path d="M1033.58,888.5L1043.38,905.5L1023.78,905.5Z"/><path d="M1040.15,887.44L1049.95,904.44L1030.35,904.44Z"/><path d="M1046.56,886.4L1056.36,903.4L1036.76,903.4Z"/><path d="M1052.82,885.38L1062.62,902.38L1043.02,902.38Z"/><path d="M1058.94,884.39L1068.74,901.39L1049.14,901.39Z"/><path d="M1064.93,883.42L1074.73,900.42L1055.13,900.42Z"/><path d="M1070.78,882.47L1080.58,899.47L1060.98,899.47Z"/><path d="M1076.51,881.54L1086.31,898.54L1066.71,898.54Z"/><path d="M1082.12,880.63L1091.92,897.63L1072.32,897.63Z"/><path d="M1087.62,879.74L1097.42,896.74L1077.82,896.74Z"/><path d="M1093,878.87L1102.8,895.87L1083.2,895.87Z"/><path d="M1098.28,878.01L1108.08,895.01L1088.48,895.01Z"/><path d="M1103.46,877.17L1113.26,894.17L1093.66,894.17Z"/><path d="M1108.54,876.35L1118.34,893.35L1098.74,893.35Z"/><path d="M1113.53,875.54L1123.33,892.54L1103.73,892.54Z"/><path d="M1118.42,874.75L1128.22,891.75L1108.62,891.75Z"/><path d="M1123.23,873.97L1133.03,890.97L1113.43,890.97Z"/><path d="M1127.96,873.2L1137.76,890.2L1118.16,890.2Z"/><path d="M1132.6,872.45L1142.4,889.45L1122.8,889.45Z"/><path d="M1137.16,871.71L1146.96,888.71L1127.36,888.71Z"/><path d="M1141.65,870.98L1151.45,887.98L1131.85,887.98Z"/><path d="M1146.06,870.26L1155.86,887.26L1136.26,887.26Z"/><path d="M1150.41,869.56L1160.21,886.56L1140.61,886.56Z"/><path d="M1154.68,868.87L1164.48,885.87L1144.88,885.87Z"/><path d="M1158.89,868.18L1168.69,885.18L1149.09,885.18Z"/><path d="M1163.03,867.51L1172.83,884.51L1153.23,884.51Z"/><path d="M1167.11,866.85L1176.91,883.85L1157.31,883.85Z"/><path d="M1171.13,866.2L1180.93,883.2L1161.33,883.2Z"/><path d="M1175.09,865.56L1184.89,882.56L1165.29,882.56Z"/><path d="M1178.99,864.92L1188.79,881.92L1169.19,881.92Z"/><path d="M1182.84,864.3L1192.64,881.3L1173.04,881.3Z"/><path d="M1186.63,863.69L1196.43,880.69L1176.83,880.69Z"/><path d="M1190.37,863.08L1200.17,880.08L1180.57,880.08Z"/><path d="M1194.06,862.48L1203.86,879.48L1184.26,879.48Z"/><path d="M1197.7,861.89L1207.5,878.89L1187.9,878.89Z"/><path d="M1201.29,861.31L1211.09,878.31L1191.49,878.31Z"/><path d="M1204.83,860.73L1214.63,877.73L1195.03,877.73Z"/><path d="M1208.33,860.17L1218.13,877.17L1198.53,877.17Z"/><path d="M1211.78,859.61L1221.58,876.61L1201.98,876.61Z"/><path d="M1215.19,859.05L1224.99,876.05L1205.39,876.05Z"/><path d="M1218.55,858.51L1228.35,875.51L1208.75,875.51Z"/><path d="M1221.88,857.97L1231.68,874.97L1212.08,874.97Z"/><path d="M1225.16,857.44L1234.96,874.44L1215.36,874.44Z"/><path d="M1228.41,856.91L1238.21,873.91L1218.61,873.91Z"/><path d="M1231.61,856.39L1241.41,873.39L1221.81,873.39Z"/><path d="M1234.78,855.88L1244.58,872.88L1224.98,872.88Z"/><path d="M1237.91,855.37L1247.71,872.37L1228.11,872.37Z"/><path d="M1241.01,854.87L1250.81,871.87L1231.21,871.87Z"/><path d="M1244.07,854.37L1253.87,871.37L1234.27,871.37Z"/><path d="M1247.09,853.88L1256.89,870.88L1237.29,870.88Z"/><path d="M1250.08,853.4L1259.88,870.4L1240.28,870.4Z"/><path d="M1253.04,852.92L1262.84,869.92L1243.24,869.92Z"/><path d="M1255.97,852.44L1265.77,869.44L1246.17,869.44Z"/><path d="M1258.86,851.97L1268.66,868.97L1249.06,868.97Z"/><path d="M1261.73,851.51L1271.53,868.51L1251.93,868.51Z"/><path d="M1264.56,851.05L1274.36,868.05L1254.76,868.05Z"/><path d="M1267.37,850.59L1277.17,867.59L1257.57,867.59Z"/><path d="M1270.14,850.14L1279.94,867.14L1260.34,867.14Z"/><path d="M1272.89,849.7L1282.69,866.7L1263.09,866.7Z"/><path d="M1275.61,849.26L1285.41,866.26L1265.81,866.26Z"/></g>
<line x1="784" y1="936.9" x2="1302.8" y2="858.41" stroke="#4b0096" stroke-width="2.2" />
<g fill="#d10000" fill-opacity="0.6"><path d="M914.24,881.12L924.04,864.12L904.44,864.12Z"/><path d="M934.2,875.58L944,858.58L924.4,858.58Z"/><path d="M952.78,871.12L962.58,854.12L942.98,854.12Z"/><path d="M970.15,867.29L979.95,850.29L960.35,850.29Z"/><path d="M986.48,863.85L996.28,846.85L976.68,846.85Z"/><path d="M1001.87,860.68L1011.67,843.68L992.07,843.68Z"/><path d="M1016.43,857.73L1026.23,840.73L1006.63,840.73Z"/><path d="M1030.24,854.96L1040.04,837.96L1020.44,837.96Z"/><path d="M1043.38,852.34L1053.18,835.34L1033.58,835.34Z"/><path d="M1055.9,849.85L1065.7,832.85L1046.1,832.85Z"/><path d="M1067.87,847.47L1077.67,830.47L1058.07,830.47Z"/><path d="M1079.33,845.2L1089.13,828.2L1069.53,828.2Z"/><path d="M1090.32,843.02L1100.12,826.02L1080.52,826.02Z"/><path d="M1100.88,840.93L1110.68,823.93L1091.08,823.93Z"/><path d="M1111.05,838.92L1120.85,821.92L1101.25,821.92Z"/><path d="M1120.84,836.98L1130.64,819.98L1111.04,819.98Z"/><path d="M1130.29,835.11L1140.09,818.11L1120.49,818.11Z"/><path d="M1139.42,833.3L1149.22,816.3L1129.62,816.3Z"/><path d="M1148.24,831.55L1158.04,814.55L1138.44,814.55Z"/><path d="M1156.79,829.86L1166.59,812.86L1146.99,812.86Z"/><path d="M1165.08,828.22L1174.88,811.22L1155.28,811.22Z"/><path d="M1173.12,826.63L1182.92,809.63L1163.32,809.63Z"/><path d="M1180.92,825.09L1190.72,808.09L1171.12,808.09Z"/><path d="M1188.51,823.59L1198.31,806.59L1178.71,806.59Z"/><path d="M1195.89,822.13L1205.69,805.13L1186.09,805.13Z"/><path d="M1203.07,820.71L1212.87,803.71L1193.27,803.71Z"/><path d="M1210.06,819.33L1219.86,802.33L1200.26,802.33Z"/><path d="M1216.88,817.98L1226.68,800.98L1207.08,800.98Z"/><path d="M1223.53,816.66L1233.33,799.66L1213.73,799.66Z"/><path d="M1230.01,815.38L1239.81,798.38L1220.21,798.38Z"/><path d="M1236.35,814.13L1246.15,797.13L1226.55,797.13Z"/><path d="M1242.54,812.9L1252.34,795.9L1232.74,795.9Z"/><path d="M1248.59,811.7L1258.39,794.7L1238.79,794.7Z"/><path d="M1254.51,810.53L1264.31,793.53L1244.71,793.53Z"/><path d="M1260.3,809.39L1270.1,792.39L1250.5,792.39Z"/><path d="M1265.97,808.27L1275.77,791.27L1256.17,791.27Z"/><path d="M1271.52,807.17L1281.32,790.17L1261.72,790.17Z"/><path d="M1276.96,806.09L1286.76,789.09L1267.16,789.09Z"/></g>
<line x1="784" y1="893.6" x2="1302.8" y2="790.98" stroke="#990000" stroke-width="2" />
</g>
<line x1="782.5" y1="733" x2="1304.3" y2="733" stroke="#000" stroke-width="3" />
<line x1="782.5" y1="1149.8" x2="1304.3" y2="1149.8" stroke="#000" stroke-width="3" />
<line x1="784" y1="733" x2="784" y2="937.5" stroke="#000" stroke-width="3" />
<line x1="784" y1="948.6" x2="784" y2="1149.8" stroke="#000" stroke-width="3" />
<line x1="1302.7" y1="733" x2="1302.7" y2="938.8" stroke="#000" stroke-width="3" />
<line x1="1302.7" y1="948.5" x2="1302.7" y2="1149.8" stroke="#000" stroke-width="3" />
<line x1="775.5" y1="943.3" x2="791.7" y2="936.9" stroke="#000" stroke-width="2.9" />
<line x1="775.5" y1="950.6" x2="791.7" y2="944.1" stroke="#000" stroke-width="2.9" />
<line x1="1294.9" y1="944" x2="1310.8" y2="936.2" stroke="#000" stroke-width="2.9" />
<line x1="1294.9" y1="951.1" x2="1310.8" y2="944" stroke="#000" stroke-width="2.9" />
<line x1="784" y1="930.87" x2="779.8" y2="930.87" stroke="#000" stroke-width="2.6" />
<line x1="784" y1="913.97" x2="779.8" y2="913.97" stroke="#000" stroke-width="2.6" />
<line x1="784" y1="898.17" x2="779.8" y2="898.17" stroke="#000" stroke-width="2.6" />
<line x1="784" y1="883.32" x2="779.8" y2="883.32" stroke="#000" stroke-width="2.6" />
<line x1="784" y1="869.32" x2="775" y2="869.32" stroke="#000" stroke-width="2.6" />
<line x1="784" y1="856.07" x2="779.8" y2="856.07" stroke="#000" stroke-width="2.6" />
<line x1="784" y1="843.51" x2="779.8" y2="843.51" stroke="#000" stroke-width="2.6" />
<line x1="784" y1="831.56" x2="779.8" y2="831.56" stroke="#000" stroke-width="2.6" />
<line x1="784" y1="820.16" x2="779.8" y2="820.16" stroke="#000" stroke-width="2.6" />
<line x1="784" y1="809.27" x2="779.8" y2="809.27" stroke="#000" stroke-width="2.6" />
<line x1="784" y1="798.85" x2="779.8" y2="798.85" stroke="#000" stroke-width="2.6" />
<line x1="784" y1="788.85" x2="779.8" y2="788.85" stroke="#000" stroke-width="2.6" />
<line x1="784" y1="779.24" x2="779.8" y2="779.24" stroke="#000" stroke-width="2.6" />
<line x1="784" y1="770" x2="775" y2="770" stroke="#000" stroke-width="2.6" />
<line x1="784" y1="761.09" x2="779.8" y2="761.09" stroke="#000" stroke-width="2.6" />
<line x1="784" y1="752.5" x2="779.8" y2="752.5" stroke="#000" stroke-width="2.6" />
<line x1="784" y1="744.19" x2="779.8" y2="744.19" stroke="#000" stroke-width="2.6" />
<line x1="784" y1="736.16" x2="779.8" y2="736.16" stroke="#000" stroke-width="2.6" />
<line x1="784" y1="1145.97" x2="779.8" y2="1145.97" stroke="#000" stroke-width="2.6" />
<line x1="784" y1="1131.12" x2="779.8" y2="1131.12" stroke="#000" stroke-width="2.6" />
<line x1="784" y1="1117.12" x2="775" y2="1117.12" stroke="#000" stroke-width="2.6" />
<line x1="784" y1="1103.87" x2="779.8" y2="1103.87" stroke="#000" stroke-width="2.6" />
<line x1="784" y1="1091.31" x2="779.8" y2="1091.31" stroke="#000" stroke-width="2.6" />
<line x1="784" y1="1079.36" x2="779.8" y2="1079.36" stroke="#000" stroke-width="2.6" />
<line x1="784" y1="1067.96" x2="779.8" y2="1067.96" stroke="#000" stroke-width="2.6" />
<line x1="784" y1="1057.07" x2="779.8" y2="1057.07" stroke="#000" stroke-width="2.6" />
<line x1="784" y1="1046.65" x2="779.8" y2="1046.65" stroke="#000" stroke-width="2.6" />
<line x1="784" y1="1036.65" x2="779.8" y2="1036.65" stroke="#000" stroke-width="2.6" />
<line x1="784" y1="1027.04" x2="779.8" y2="1027.04" stroke="#000" stroke-width="2.6" />
<line x1="784" y1="1017.8" x2="775" y2="1017.8" stroke="#000" stroke-width="2.6" />
<line x1="784" y1="1008.89" x2="779.8" y2="1008.89" stroke="#000" stroke-width="2.6" />
<line x1="784" y1="1000.3" x2="779.8" y2="1000.3" stroke="#000" stroke-width="2.6" />
<line x1="784" y1="991.99" x2="779.8" y2="991.99" stroke="#000" stroke-width="2.6" />
<line x1="784" y1="983.96" x2="779.8" y2="983.96" stroke="#000" stroke-width="2.6" />
<line x1="784" y1="976.18" x2="779.8" y2="976.18" stroke="#000" stroke-width="2.6" />
<line x1="784" y1="968.65" x2="779.8" y2="968.65" stroke="#000" stroke-width="2.6" />
<line x1="784" y1="961.34" x2="779.8" y2="961.34" stroke="#000" stroke-width="2.6" />
<line x1="784" y1="954.23" x2="779.8" y2="954.23" stroke="#000" stroke-width="2.6" />
<line x1="843.6" y1="1149.8" x2="843.6" y2="1158" stroke="#000" stroke-width="2.6" />
<line x1="885.11" y1="1149.8" x2="885.11" y2="1153.8" stroke="#000" stroke-width="2.6" />
<line x1="921.06" y1="1149.8" x2="921.06" y2="1153.8" stroke="#000" stroke-width="2.6" />
<line x1="952.78" y1="1149.8" x2="952.78" y2="1153.8" stroke="#000" stroke-width="2.6" />
<line x1="981.15" y1="1149.8" x2="981.15" y2="1153.8" stroke="#000" stroke-width="2.6" />
<line x1="1006.81" y1="1149.8" x2="1006.81" y2="1153.8" stroke="#000" stroke-width="2.6" />
<line x1="1030.24" y1="1149.8" x2="1030.24" y2="1153.8" stroke="#000" stroke-width="2.6" />
<line x1="1051.79" y1="1149.8" x2="1051.79" y2="1153.8" stroke="#000" stroke-width="2.6" />
<line x1="1071.75" y1="1149.8" x2="1071.75" y2="1153.8" stroke="#000" stroke-width="2.6" />
<line x1="1090.32" y1="1149.8" x2="1090.32" y2="1158" stroke="#000" stroke-width="2.6" />
<line x1="1118.69" y1="1149.8" x2="1118.69" y2="1153.8" stroke="#000" stroke-width="2.6" />
<line x1="1144.36" y1="1149.8" x2="1144.36" y2="1153.8" stroke="#000" stroke-width="2.6" />
<line x1="1167.78" y1="1149.8" x2="1167.78" y2="1153.8" stroke="#000" stroke-width="2.6" />
<line x1="1189.34" y1="1149.8" x2="1189.34" y2="1153.8" stroke="#000" stroke-width="2.6" />
<line x1="1209.29" y1="1149.8" x2="1209.29" y2="1153.8" stroke="#000" stroke-width="2.6" />
<line x1="1227.87" y1="1149.8" x2="1227.87" y2="1153.8" stroke="#000" stroke-width="2.6" />
<line x1="1245.25" y1="1149.8" x2="1245.25" y2="1153.8" stroke="#000" stroke-width="2.6" />
<line x1="1261.57" y1="1149.8" x2="1261.57" y2="1153.8" stroke="#000" stroke-width="2.6" />
<line x1="1276.96" y1="1149.8" x2="1276.96" y2="1158" stroke="#000" stroke-width="2.6" />
<text x="665.43" y="780.2" font-size="27">1.2×10<tspan font-size="19.5" dy="-10.8">−1</tspan></text>
<g fill="#fff"><rect x="665.96" y="776.77" width="6.26" height="5.03"/><rect x="674.61" y="776.77" width="5.84" height="5.03"/><rect x="719.26" y="776.77" width="6.26" height="5.03"/><rect x="727.91" y="776.77" width="5.84" height="5.03"/></g>
<g fill="#fff"><rect x="760.54" y="766.59" width="4.52" height="4.41"/><rect x="766.78" y="766.59" width="4.22" height="4.41"/></g>
<text x="686.95" y="878.9" font-size="27">8×10<tspan font-size="19.5" dy="-10.8">−2</tspan></text>
<g fill="#fff"><rect x="718.26" y="875.47" width="6.26" height="5.03"/><rect x="726.91" y="875.47" width="5.84" height="5.03"/></g>
<text x="686.95" y="1028.2" font-size="27">6×10<tspan font-size="19.5" dy="-10.8">−3</tspan></text>
<g fill="#fff"><rect x="718.26" y="1024.77" width="6.26" height="5.03"/><rect x="726.91" y="1024.77" width="5.84" height="5.03"/></g>
<text x="686.95" y="1127.3" font-size="27">4×10<tspan font-size="19.5" dy="-10.8">−3</tspan></text>
<g fill="#fff"><rect x="718.26" y="1123.87" width="6.26" height="5.03"/><rect x="726.91" y="1123.87" width="5.84" height="5.03"/></g>
<text x="808.37" y="1189.4" font-size="27">2×10<tspan font-size="19.5" dy="-10.8">3</tspan></text>
<g fill="#fff"><rect x="839.68" y="1185.97" width="6.26" height="5.03"/><rect x="848.33" y="1185.97" width="5.84" height="5.03"/></g>
<text x="1054.87" y="1189.4" font-size="27">5×10<tspan font-size="19.5" dy="-10.8">3</tspan></text>
<g fill="#fff"><rect x="1086.18" y="1185.97" width="6.26" height="5.03"/><rect x="1094.83" y="1185.97" width="5.84" height="5.03"/></g>
<text x="1257.56" y="1189.8" font-size="27">10<tspan font-size="19.5" dy="-10.8">4</tspan></text>
<g fill="#fff"><rect x="1258.09" y="1186.37" width="6.26" height="5.03"/><rect x="1266.74" y="1186.37" width="5.84" height="5.03"/></g>
<text x="900.5" y="1225.1" font-size="35.4" text-anchor="start" fill="#000" >Temperature / mK</text>
<g transform="translate(674,1069.7) rotate(-90)"><text x="-1.84" y="0" font-size="36.3">Conductance / S</text></g>
<g transform="translate(1004.7,783.3) rotate(0)"><text x="-2.24" y="0" font-size="44.5">G</text><text x="32.4" y="11.5" font-size="29.5" letter-spacing="0.73">CNTs</text><path d="M137.9,-21.1 C132.8,-21.1 129.23,-17.04 127.45,-11.47 C124.39,-7.19 122.09,-4.2 119.03,-4.2 C114.95,-4.2 113.29,-7.62 113.29,-11.9 C113.29,-16.18 115.46,-19.6 119.29,-19.6 C122.6,-19.6 125.15,-16.18 127.45,-11.47 C129.23,-5.91 132.8,-2.7 137.9,-2.7" stroke="#000" stroke-width="2.7" fill="none"/><text x="153.9" y="0" font-size="44.5">T</text><text x="181.41" y="-11" font-size="28.0" letter-spacing="1.4">0.22</text></g>
<g transform="translate(945.8,955.5) rotate(0)"><text x="-2.24" y="0" font-size="44.5">G</text><text x="32.08" y="11.5" font-size="29.5" letter-spacing="0.45">NbSe3@CNT</text><path d="M246.2,-21.1 C241.06,-21.1 237.46,-17.04 235.66,-11.47 C232.58,-7.19 230.27,-4.2 227.18,-4.2 C223.07,-4.2 221.4,-7.62 221.4,-11.9 C221.4,-16.18 223.58,-19.6 227.44,-19.6 C230.78,-19.6 233.35,-16.18 235.66,-11.47 C237.46,-5.91 241.06,-2.7 246.2,-2.7" stroke="#000" stroke-width="2.7" fill="none"/><text x="262.2" y="0" font-size="44.5">T</text><text x="289.51" y="-11" font-size="28.0" letter-spacing="1.5">0.18</text><g fill="#fff"><rect x="316.41" y="-14.51" width="6.49" height="5.11"/><rect x="325.38" y="-14.51" width="6.06" height="5.11"/></g></g>
<g transform="translate(947.8,1112.6) rotate(0)"><text x="-2.24" y="0" font-size="44.5">G</text><text x="32.08" y="11.5" font-size="29.5" letter-spacing="0.45">NbSe2@CNT</text><path d="M245.9,-21.1 C240.88,-21.1 237.37,-17.04 235.61,-11.47 C232.6,-7.19 230.34,-4.2 227.33,-4.2 C223.31,-4.2 221.68,-7.62 221.68,-11.9 C221.68,-16.18 223.81,-19.6 227.58,-19.6 C230.84,-19.6 233.35,-16.18 235.61,-11.47 C237.37,-5.91 240.88,-2.7 245.9,-2.7" stroke="#000" stroke-width="2.7" fill="none"/><text x="262.6" y="0" font-size="44.5">T</text><text x="289.51" y="-11" font-size="28.0" letter-spacing="1.17">0.32</text></g>
<text x="2.03" y="46.3" font-size="53.5" text-anchor="start" font-weight="bold" fill="#000" >a</text>
<text x="-0.33" y="354" font-size="53.5" text-anchor="start" font-weight="bold" fill="#000" >b</text>
<text x="446.91" y="46.4" font-size="53.5" text-anchor="start" font-weight="bold" fill="#000" >c</text>
<text x="-0.59" y="754.5" font-size="53.5" text-anchor="start" font-weight="bold" fill="#000" >d</text>
<text x="635.21" y="754" font-size="53.5" text-anchor="start" font-weight="bold" fill="#000" >e</text>
</svg></body></html>
